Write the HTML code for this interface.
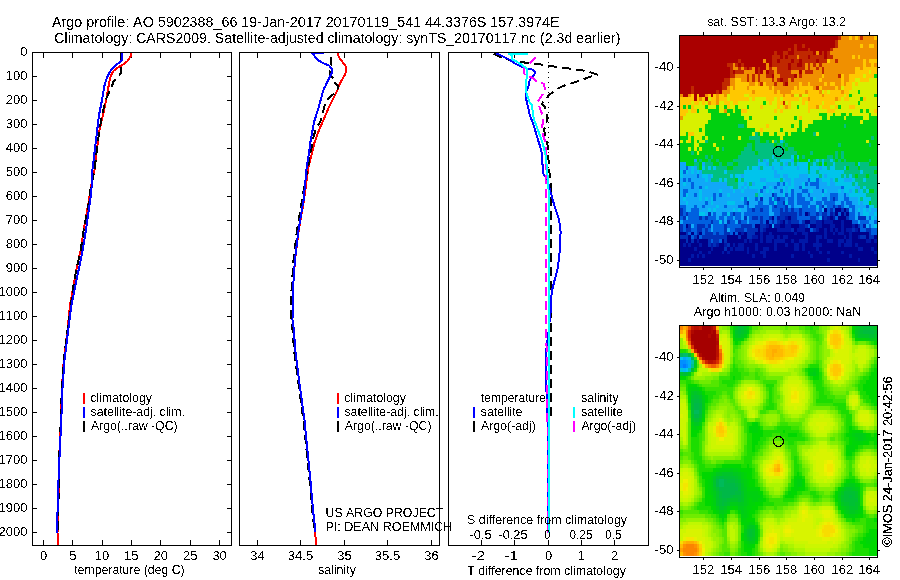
<!DOCTYPE html><html><head><meta charset="utf-8"><style>html,body{margin:0;padding:0;background:#fff;}svg{display:block;}text{font-kerning:none;}</style></head><body>
<svg width="900" height="580" viewBox="0 0 900 580" font-family='"Liberation Sans", sans-serif'>
<rect width="900" height="580" fill="#fff"/>
<defs>
<clipPath id="c1"><rect x="33" y="53" width="198" height="492"/></clipPath>
<clipPath id="c2"><rect x="240" y="53" width="199" height="492"/></clipPath>
<clipPath id="c3"><rect x="449" y="53" width="199" height="492"/></clipPath>
<clipPath id="m1"><rect x="680" y="36" width="197" height="230"/></clipPath>
<clipPath id="m2"><rect x="680" y="326" width="197" height="230"/></clipPath>
<filter id="bl" x="-20%" y="-20%" width="140%" height="140%"><feGaussianBlur stdDeviation="3"/></filter>
<filter id="bl2" x="-20%" y="-20%" width="140%" height="140%"><feGaussianBlur stdDeviation="2"/></filter>
<filter id="thr" x="0" y="0" width="900" height="580" filterUnits="userSpaceOnUse"><feComponentTransfer><feFuncA type="discrete" tableValues="0 1"/></feComponentTransfer></filter>
<filter id="thr2" x="0" y="0" width="900" height="580" filterUnits="userSpaceOnUse"><feComponentTransfer><feFuncA type="discrete" tableValues="0 0 0 1 1 1 1 1 1 1"/></feComponentTransfer></filter>
</defs>
<g shape-rendering="crispEdges">
<rect x="32" y="52" width="200" height="1" fill="#000"/>
<rect x="32" y="545" width="200" height="1" fill="#000"/>
<rect x="32" y="52" width="1" height="494" fill="#000"/>
<rect x="231" y="52" width="1" height="494" fill="#000"/>
<rect x="239" y="52" width="201" height="1" fill="#000"/>
<rect x="239" y="545" width="201" height="1" fill="#000"/>
<rect x="239" y="52" width="1" height="494" fill="#000"/>
<rect x="439" y="52" width="1" height="494" fill="#000"/>
<rect x="448" y="52" width="201" height="1" fill="#000"/>
<rect x="448" y="545" width="201" height="1" fill="#000"/>
<rect x="448" y="52" width="1" height="494" fill="#000"/>
<rect x="648" y="52" width="1" height="494" fill="#000"/>
<rect x="33" y="52" width="4" height="1" fill="#000"/>
<rect x="227" y="52" width="4" height="1" fill="#000"/>
<rect x="33" y="76" width="4" height="1" fill="#000"/>
<rect x="227" y="76" width="4" height="1" fill="#000"/>
<rect x="33" y="100" width="4" height="1" fill="#000"/>
<rect x="227" y="100" width="4" height="1" fill="#000"/>
<rect x="33" y="124" width="4" height="1" fill="#000"/>
<rect x="227" y="124" width="4" height="1" fill="#000"/>
<rect x="33" y="148" width="4" height="1" fill="#000"/>
<rect x="227" y="148" width="4" height="1" fill="#000"/>
<rect x="33" y="172" width="4" height="1" fill="#000"/>
<rect x="227" y="172" width="4" height="1" fill="#000"/>
<rect x="33" y="196" width="4" height="1" fill="#000"/>
<rect x="227" y="196" width="4" height="1" fill="#000"/>
<rect x="33" y="220" width="4" height="1" fill="#000"/>
<rect x="227" y="220" width="4" height="1" fill="#000"/>
<rect x="33" y="244" width="4" height="1" fill="#000"/>
<rect x="227" y="244" width="4" height="1" fill="#000"/>
<rect x="33" y="268" width="4" height="1" fill="#000"/>
<rect x="227" y="268" width="4" height="1" fill="#000"/>
<rect x="33" y="292" width="4" height="1" fill="#000"/>
<rect x="227" y="292" width="4" height="1" fill="#000"/>
<rect x="33" y="316" width="4" height="1" fill="#000"/>
<rect x="227" y="316" width="4" height="1" fill="#000"/>
<rect x="33" y="340" width="4" height="1" fill="#000"/>
<rect x="227" y="340" width="4" height="1" fill="#000"/>
<rect x="33" y="364" width="4" height="1" fill="#000"/>
<rect x="227" y="364" width="4" height="1" fill="#000"/>
<rect x="33" y="388" width="4" height="1" fill="#000"/>
<rect x="227" y="388" width="4" height="1" fill="#000"/>
<rect x="33" y="412" width="4" height="1" fill="#000"/>
<rect x="227" y="412" width="4" height="1" fill="#000"/>
<rect x="33" y="436" width="4" height="1" fill="#000"/>
<rect x="227" y="436" width="4" height="1" fill="#000"/>
<rect x="33" y="460" width="4" height="1" fill="#000"/>
<rect x="227" y="460" width="4" height="1" fill="#000"/>
<rect x="33" y="484" width="4" height="1" fill="#000"/>
<rect x="227" y="484" width="4" height="1" fill="#000"/>
<rect x="33" y="508" width="4" height="1" fill="#000"/>
<rect x="227" y="508" width="4" height="1" fill="#000"/>
<rect x="33" y="532" width="4" height="1" fill="#000"/>
<rect x="227" y="532" width="4" height="1" fill="#000"/>
<rect x="43" y="53" width="1" height="5" fill="#000"/>
<rect x="43" y="540" width="1" height="5" fill="#000"/>
<rect x="72" y="53" width="1" height="5" fill="#000"/>
<rect x="72" y="540" width="1" height="5" fill="#000"/>
<rect x="102" y="53" width="1" height="5" fill="#000"/>
<rect x="102" y="540" width="1" height="5" fill="#000"/>
<rect x="131" y="53" width="1" height="5" fill="#000"/>
<rect x="131" y="540" width="1" height="5" fill="#000"/>
<rect x="160" y="53" width="1" height="5" fill="#000"/>
<rect x="160" y="540" width="1" height="5" fill="#000"/>
<rect x="190" y="53" width="1" height="5" fill="#000"/>
<rect x="190" y="540" width="1" height="5" fill="#000"/>
<rect x="219" y="53" width="1" height="5" fill="#000"/>
<rect x="219" y="540" width="1" height="5" fill="#000"/>
<rect x="257" y="53" width="1" height="5" fill="#000"/>
<rect x="257" y="540" width="1" height="5" fill="#000"/>
<rect x="300" y="53" width="1" height="5" fill="#000"/>
<rect x="300" y="540" width="1" height="5" fill="#000"/>
<rect x="344" y="53" width="1" height="5" fill="#000"/>
<rect x="344" y="540" width="1" height="5" fill="#000"/>
<rect x="387" y="53" width="1" height="5" fill="#000"/>
<rect x="387" y="540" width="1" height="5" fill="#000"/>
<rect x="431" y="53" width="1" height="5" fill="#000"/>
<rect x="431" y="540" width="1" height="5" fill="#000"/>
<rect x="481" y="53" width="1" height="5" fill="#000"/>
<rect x="481" y="540" width="1" height="5" fill="#000"/>
<rect x="514" y="53" width="1" height="5" fill="#000"/>
<rect x="514" y="540" width="1" height="5" fill="#000"/>
<rect x="548" y="53" width="1" height="5" fill="#000"/>
<rect x="548" y="540" width="1" height="5" fill="#000"/>
<rect x="581" y="53" width="1" height="5" fill="#000"/>
<rect x="581" y="540" width="1" height="5" fill="#000"/>
<rect x="614" y="53" width="1" height="5" fill="#000"/>
<rect x="614" y="540" width="1" height="5" fill="#000"/>
</g>
<rect x="83" y="393" width="2" height="11" fill="#f00" shape-rendering="crispEdges"/>
<rect x="83" y="407" width="2" height="11" fill="#00f" shape-rendering="crispEdges"/>
<rect x="83" y="421" width="2" height="11" fill="#000" shape-rendering="crispEdges"/>
<rect x="337" y="393" width="2" height="11" fill="#f00" shape-rendering="crispEdges"/>
<rect x="337" y="407" width="2" height="11" fill="#00f" shape-rendering="crispEdges"/>
<rect x="337" y="421" width="2" height="11" fill="#000" shape-rendering="crispEdges"/>
<rect x="473" y="407" width="2" height="11" fill="#00f" shape-rendering="crispEdges"/>
<rect x="473" y="421" width="2" height="11" fill="#000" shape-rendering="crispEdges"/>
<rect x="573" y="407" width="2" height="11" fill="#0ff" shape-rendering="crispEdges"/>
<rect x="573" y="421" width="2" height="11" fill="#f0f" shape-rendering="crispEdges"/>
<g shape-rendering="crispEdges">
<polyline points="131.0,52.0 131.0,55.5 129.7,57.6 127.6,61.0 124.1,63.8 120.7,65.9 117.2,67.9 113.8,70.7 111.7,74.1 110.3,77.6 109.3,81.7 108.8,85.0 106.2,100.0 103.0,115.0 99.5,130.0 98.1,140.0 94.5,170.0 90.3,190.0 89.0,200.0 83.7,230.0 80.7,250.0 76.3,270.0 72.7,290.0 70.0,305.0 67.5,330.0 63.8,360.0 61.8,390.0 60.8,420.0 59.5,450.0 58.8,480.0 58.5,500.0 58.0,520.0 57.5,533.0 57.5,546.0" fill="none" stroke="#f00" stroke-width="2" stroke-linejoin="round" clip-path="url(#c1)"/>
<polyline points="121.0,53.0 120.7,61.7 120.7,73.4 118.6,76.2 115.9,79.0 113.1,81.7 112.4,85.0 105.7,100.0 102.0,115.0 99.5,130.0 98.1,140.0 94.5,170.0 90.3,190.0 89.3,200.0 83.7,230.0 80.7,250.0 76.3,270.0 72.7,290.0 70.3,310.0 67.5,330.0 63.8,360.0 61.8,390.0 60.8,420.0 59.5,450.0 58.8,480.0 58.5,500.0 58.0,520.0 57.6,532.0" fill="none" stroke="#000" stroke-width="2" stroke-linejoin="round" stroke-dasharray="9 5" clip-path="url(#c1)"/>
<polyline points="121.7,52.0 121.7,60.3 120.3,61.7 115.9,65.2 112.4,68.6 109.7,72.0 106.9,77.6 104.6,85.0 102.0,100.0 99.0,115.0 97.2,130.0 96.0,140.0 92.4,170.0 91.4,190.0 90.3,200.0 85.9,230.0 82.8,250.0 78.6,270.0 74.5,290.0 71.5,305.0 68.2,330.0 64.5,360.0 62.4,390.0 61.3,420.0 59.8,450.0 58.5,480.0 58.0,500.0 57.2,520.0 57.0,533.0" fill="none" stroke="#00f" stroke-width="2" stroke-linejoin="round" clip-path="url(#c1)"/>
<polyline points="338.2,52.0 338.6,56.9 341.2,60.3 344.7,64.7 346.4,67.2 346.4,70.7 344.7,75.0 342.9,78.4 340.3,82.8 338.6,86.2 337.3,90.5 335.2,94.8 333.0,99.1 329.5,106.0 324.7,117.0 320.5,126.7 317.1,135.0 314.3,143.3 311.6,154.3 308.8,165.3 307.4,175.0 304.0,200.0 298.8,230.0 295.0,260.0 292.9,290.0 292.5,320.0 293.9,330.0 295.2,350.0 299.0,380.0 303.1,410.0 304.5,420.0 307.4,450.0 310.4,480.0 313.0,510.0 315.3,530.0 315.8,546.0" fill="none" stroke="#f00" stroke-width="2" stroke-linejoin="round" clip-path="url(#c2)"/>
<polyline points="330.9,56.5 330.9,65.1 330.5,68.0 330.0,70.7 330.0,75.0 332.6,77.6 334.7,79.7 334.3,81.9 336.0,84.0 337.8,85.3 337.8,88.8 336.0,91.0 334.3,93.5 330.0,97.0 327.8,99.6 326.7,100.5 324.0,107.4 322.6,114.3 320.5,121.2 315.7,129.5 312.9,139.1 311.6,147.4 309.5,157.0 308.1,168.0 305.5,180.0 302.0,200.0 297.0,230.0 293.5,260.0 291.5,290.0 291.3,320.0 292.6,330.0 294.0,350.0 298.0,380.0 302.0,410.0 303.5,420.0 306.5,450.0 309.5,480.0 312.2,510.0 314.5,530.0" fill="none" stroke="#000" stroke-width="2" stroke-linejoin="round" stroke-dasharray="9 5" clip-path="url(#c2)"/>
<polyline points="323.5,53.0 312.5,53.5 314.5,56.0 316.2,58.6 319.7,61.2 324.8,63.8 329.1,65.5 331.7,69.0 332.2,71.6 330.9,75.0 329.1,78.4 327.4,81.9 325.3,86.2 323.5,89.7 322.2,94.0 321.2,98.0 319.8,103.3 317.8,110.2 314.3,121.2 312.2,132.2 310.2,143.3 308.8,154.3 306.7,167.0 303.6,200.0 298.5,230.0 294.9,260.0 292.9,290.0 292.5,320.0 293.9,330.0 295.2,350.0 299.0,380.0 303.1,410.0 304.5,420.0 307.4,450.0 310.4,480.0 313.0,510.0 315.3,530.0 315.5,532.0" fill="none" stroke="#00f" stroke-width="2" stroke-linejoin="round" clip-path="url(#c2)"/>
</g>
<line x1="548.5" y1="52" x2="548.5" y2="545" stroke="#000" stroke-width="1" stroke-dasharray="1 4" shape-rendering="crispEdges"/>
<g shape-rendering="crispEdges">
<polyline points="493.7,53.6 502.5,58.3 521.0,62.0 528.0,63.0 545.0,65.0 558.6,67.2 572.6,69.0 586.5,71.0 597.4,74.6 593.0,75.7 579.3,80.9 565.9,85.0 558.6,88.0 549.3,94.8 542.0,103.6 544.8,107.0 547.6,118.8 544.1,129.8 547.6,145.0 548.3,156.0 549.0,169.8 550.5,180.0 550.7,300.0 550.5,400.0 550.5,420.0" fill="none" stroke="#000" stroke-width="2" stroke-linejoin="round" stroke-dasharray="9 5" clip-path="url(#c3)"/>
<polyline points="495.8,53.1 501.4,55.7 508.7,59.3 514.9,63.4 521.1,66.5 526.3,68.6 532.5,69.6 535.0,71.7 534.5,74.3 531.4,77.4 529.4,81.0 528.8,85.2 527.3,89.3 525.7,93.4 526.3,99.6 527.6,105.0 529.7,114.7 533.8,125.7 537.9,139.5 541.4,150.5 542.1,160.2 543.4,174.0 547.6,180.0 550.7,192.4 554.8,206.9 559.0,219.3 560.6,231.8 560.0,248.3 558.0,267.0 554.8,279.4 551.7,291.8 550.7,310.7 548.6,331.4 546.1,352.0 545.5,372.8 546.6,393.5 547.5,420.0 548.0,450.0 548.0,533.0" fill="none" stroke="#00f" stroke-width="2" stroke-linejoin="round" clip-path="url(#c3)"/>
<polyline points="536.1,57.2 528.8,64.0 523.7,68.6 524.7,74.8 532.5,77.9 538.2,82.6 543.8,83.6 545.4,90.8 541.8,95.5 537.6,102.2 539.3,106.4 542.8,116.0 542.8,121.6 542.0,129.8 542.8,134.7 545.5,142.2 546.2,156.0 545.5,180.0 545.5,300.0 546.6,350.0 547.0,400.0 548.0,450.0 548.0,533.0" fill="none" stroke="#f0f" stroke-width="2" stroke-linejoin="round" stroke-dasharray="9 5" clip-path="url(#c3)"/>
<polyline points="527.8,53.9 509.2,53.9 511.8,56.2 512.3,59.3 517.0,61.9 522.1,65.0 526.3,68.1 527.3,70.7 526.8,75.9 526.3,81.0 526.0,89.3 526.8,94.5 529.4,101.7 531.7,105.0 533.8,118.8 537.9,129.8 542.8,143.6 545.5,154.7 546.9,167.0 548.3,185.0 549.0,200.0 549.0,533.0" fill="none" stroke="#0ff" stroke-width="2" stroke-linejoin="round" clip-path="url(#c3)"/>
</g>
<g clip-path="url(#m1)" shape-rendering="crispEdges">
<rect x="679" y="35" width="199" height="232" fill="#00008a"/>
<path fill="#aa0000" d="M680 36h158v4h-158zM680 40h155v4h-155zM680 44h114v4h-114zM797 44h5v4h-5zM805 44h30v4h-30zM680 48h108v3h-108zM791 48h3v3h-3zM797 48h11v3h-11zM810 48h20v3h-20zM680 51h94v4h-94zM777 51h6v4h-6zM788 51h6v4h-6zM813 51h3v4h-3zM819 51h3v4h-3zM824 51h3v4h-3zM680 55h92v4h-92zM780 55h3v4h-3zM785 55h3v4h-3zM808 55h2v4h-2zM824 55h3v4h-3zM680 59h58v4h-58zM741 59h22v4h-22zM766 59h6v4h-6zM777 59h3v4h-3zM791 59h3v4h-3zM799 59h3v4h-3zM816 59h3v4h-3zM680 63h47v4h-47zM738 63h3v4h-3zM744 63h22v4h-22zM769 63h3v4h-3zM788 63h3v4h-3zM797 63h5v4h-5zM680 67h50v3h-50zM747 67h2v3h-2zM755 67h3v3h-3zM760 67h6v3h-6zM788 67h3v3h-3zM680 70h50v4h-50zM733 70h2v4h-2zM755 70h3v4h-3zM760 70h3v4h-3zM766 70h3v4h-3zM799 70h3v4h-3zM680 74h50v4h-50zM772 74h2v4h-2zM794 74h3v4h-3zM680 78h44v4h-44zM780 78h3v4h-3zM680 82h42v4h-42zM785 82h3v4h-3zM680 86h11v4h-11zM694 86h28v4h-28zM680 90h11v4h-11zM694 90h22v4h-22zM719 90h3v4h-3zM683 94h5v3h-5zM694 94h3v3h-3zM699 94h6v3h-6zM711 94h2v3h-2zM694 97h3v4h-3zM705 97h3v4h-3z"/>
<path fill="#c02800" d="M838 36h3v4h-3zM860 36h3v4h-3zM835 40h3v4h-3zM794 44h3v4h-3zM802 44h3v4h-3zM835 44h3v4h-3zM788 48h3v3h-3zM794 48h3v3h-3zM808 48h2v3h-2zM830 48h3v3h-3zM774 51h3v4h-3zM783 51h5v4h-5zM794 51h19v4h-19zM822 51h2v4h-2zM827 51h3v4h-3zM772 55h8v4h-8zM783 55h2v4h-2zM788 55h9v4h-9zM799 55h9v4h-9zM810 55h14v4h-14zM827 55h6v4h-6zM738 59h3v4h-3zM772 59h5v4h-5zM780 59h11v4h-11zM794 59h5v4h-5zM802 59h14v4h-14zM819 59h8v4h-8zM835 59h3v4h-3zM727 63h6v4h-6zM735 63h3v4h-3zM741 63h3v4h-3zM772 63h16v4h-16zM791 63h6v4h-6zM802 63h3v4h-3zM808 63h2v4h-2zM813 63h3v4h-3zM819 63h3v4h-3zM730 67h3v3h-3zM738 67h3v3h-3zM744 67h3v3h-3zM749 67h3v3h-3zM758 67h2v3h-2zM769 67h3v3h-3zM777 67h11v3h-11zM791 67h14v3h-14zM808 67h2v3h-2zM816 67h3v3h-3zM822 67h2v3h-2zM730 70h3v4h-3zM735 70h9v4h-9zM758 70h2v4h-2zM769 70h5v4h-5zM777 70h14v4h-14zM805 70h8v4h-8zM822 70h2v4h-2zM730 74h5v4h-5zM747 74h2v4h-2zM752 74h3v4h-3zM758 74h2v4h-2zM766 74h6v4h-6zM780 74h14v4h-14zM799 74h3v4h-3zM838 74h3v4h-3zM724 78h6v4h-6zM747 78h2v4h-2zM752 78h3v4h-3zM758 78h2v4h-2zM772 78h2v4h-2zM777 78h3v4h-3zM783 78h5v4h-5zM791 78h3v4h-3zM722 82h8v4h-8zM760 82h3v4h-3zM774 82h3v4h-3zM783 82h2v4h-2zM691 86h3v4h-3zM722 86h5v4h-5zM816 86h3v4h-3zM691 90h3v4h-3zM716 90h3v4h-3zM783 101h2v4h-2z"/>
<path fill="#f09000" d="M841 36h8v4h-8zM852 36h3v4h-3zM858 36h2v4h-2zM863 36h11v4h-11zM838 40h39v4h-39zM838 44h22v4h-22zM863 44h6v4h-6zM874 44h3v4h-3zM833 48h44v3h-44zM816 51h3v4h-3zM830 51h47v4h-47zM797 55h2v4h-2zM833 55h19v4h-19zM855 55h3v4h-3zM860 55h17v4h-17zM763 59h3v4h-3zM830 59h5v4h-5zM838 59h25v4h-25zM866 59h3v4h-3zM733 63h2v4h-2zM766 63h3v4h-3zM805 63h3v4h-3zM810 63h3v4h-3zM816 63h3v4h-3zM822 63h41v4h-41zM866 63h5v4h-5zM874 63h3v4h-3zM733 67h5v3h-5zM741 67h3v3h-3zM752 67h3v3h-3zM766 67h3v3h-3zM772 67h5v3h-5zM805 67h3v3h-3zM810 67h6v3h-6zM819 67h3v3h-3zM824 67h31v3h-31zM860 67h3v3h-3zM744 70h11v4h-11zM763 70h3v4h-3zM774 70h3v4h-3zM791 70h8v4h-8zM802 70h3v4h-3zM813 70h9v4h-9zM824 70h31v4h-31zM735 74h12v4h-12zM749 74h3v4h-3zM755 74h3v4h-3zM760 74h6v4h-6zM774 74h6v4h-6zM797 74h2v4h-2zM802 74h20v4h-20zM824 74h14v4h-14zM844 74h5v4h-5zM730 78h5v4h-5zM741 78h6v4h-6zM749 78h3v4h-3zM755 78h3v4h-3zM760 78h12v4h-12zM774 78h3v4h-3zM788 78h3v4h-3zM794 78h25v4h-25zM822 78h19v4h-19zM844 78h5v4h-5zM730 82h5v4h-5zM749 82h6v4h-6zM758 82h2v4h-2zM766 82h8v4h-8zM777 82h6v4h-6zM788 82h11v4h-11zM802 82h6v4h-6zM810 82h14v4h-14zM827 82h3v4h-3zM835 82h6v4h-6zM844 82h2v4h-2zM727 86h3v4h-3zM733 86h2v4h-2zM747 86h2v4h-2zM769 86h3v4h-3zM774 86h20v4h-20zM797 86h2v4h-2zM813 86h3v4h-3zM822 86h13v4h-13zM838 86h3v4h-3zM722 90h8v4h-8zM752 90h3v4h-3zM774 90h3v4h-3zM780 90h11v4h-11zM805 90h3v4h-3zM819 90h3v4h-3zM841 90h3v4h-3zM680 94h3v3h-3zM688 94h3v3h-3zM705 94h3v3h-3zM716 94h3v3h-3zM724 94h3v3h-3zM783 94h2v3h-2zM791 94h3v3h-3zM799 94h3v3h-3zM822 94h2v3h-2zM699 97h3v4h-3zM716 97h3v4h-3zM808 97h2v4h-2zM835 97h3v4h-3zM708 101h3v4h-3zM716 101h3v4h-3zM785 105h3v4h-3zM816 105h3v4h-3zM724 109h3v4h-3zM680 116h3v4h-3z"/>
<path fill="#ffc800" d="M849 36h3v4h-3zM855 36h3v4h-3zM874 36h3v4h-3zM860 44h3v4h-3zM869 44h5v4h-5zM852 55h3v4h-3zM858 55h2v4h-2zM827 59h3v4h-3zM863 59h3v4h-3zM869 59h8v4h-8zM863 63h3v4h-3zM871 63h3v4h-3zM855 67h5v3h-5zM863 67h14v3h-14zM855 70h14v4h-14zM871 70h6v4h-6zM822 74h2v4h-2zM841 74h3v4h-3zM849 74h14v4h-14zM866 74h8v4h-8zM735 78h6v4h-6zM819 78h3v4h-3zM841 78h3v4h-3zM849 78h6v4h-6zM860 78h9v4h-9zM735 82h14v4h-14zM755 82h3v4h-3zM763 82h3v4h-3zM799 82h3v4h-3zM808 82h2v4h-2zM824 82h3v4h-3zM830 82h5v4h-5zM841 82h3v4h-3zM846 82h6v4h-6zM855 82h3v4h-3zM730 86h3v4h-3zM735 86h12v4h-12zM749 86h20v4h-20zM772 86h2v4h-2zM794 86h3v4h-3zM799 86h14v4h-14zM819 86h3v4h-3zM835 86h3v4h-3zM844 86h8v4h-8zM730 90h22v4h-22zM755 90h19v4h-19zM777 90h3v4h-3zM791 90h14v4h-14zM808 90h11v4h-11zM824 90h3v4h-3zM830 90h11v4h-11zM844 90h5v4h-5zM691 94h3v3h-3zM697 94h2v3h-2zM708 94h3v3h-3zM713 94h3v3h-3zM719 94h5v3h-5zM730 94h14v3h-14zM749 94h34v3h-34zM785 94h6v3h-6zM808 94h14v3h-14zM824 94h20v3h-20zM846 94h3v3h-3zM680 97h14v4h-14zM697 97h2v4h-2zM702 97h3v4h-3zM711 97h5v4h-5zM719 97h8v4h-8zM730 97h19v4h-19zM752 97h3v4h-3zM766 97h8v4h-8zM777 97h3v4h-3zM783 97h16v4h-16zM802 97h6v4h-6zM810 97h25v4h-25zM838 97h3v4h-3zM844 97h5v4h-5zM863 97h3v4h-3zM680 101h11v4h-11zM694 101h5v4h-5zM702 101h3v4h-3zM711 101h5v4h-5zM724 101h6v4h-6zM733 101h5v4h-5zM769 101h3v4h-3zM777 101h6v4h-6zM788 101h3v4h-3zM802 101h3v4h-3zM808 101h14v4h-14zM824 101h11v4h-11zM680 105h3v4h-3zM686 105h2v4h-2zM691 105h3v4h-3zM727 105h3v4h-3zM760 105h3v4h-3zM777 105h3v4h-3zM783 105h2v4h-2zM788 105h3v4h-3zM808 105h8v4h-8zM822 105h8v4h-8zM835 105h3v4h-3zM849 105h6v4h-6zM680 109h8v4h-8zM691 109h6v4h-6zM741 109h6v4h-6zM774 109h3v4h-3zM780 109h3v4h-3zM808 109h2v4h-2zM827 109h8v4h-8zM874 109h3v4h-3zM680 113h6v3h-6zM799 116h3v4h-3zM766 124h3v4h-3zM760 128h3v4h-3zM688 132h6v4h-6zM688 140h3v3h-3z"/>
<path fill="#d8f000" d="M869 70h2v4h-2zM863 74h3v4h-3zM855 78h5v4h-5zM869 78h8v4h-8zM852 82h3v4h-3zM858 82h19v4h-19zM841 86h3v4h-3zM852 86h25v4h-25zM822 90h2v4h-2zM827 90h3v4h-3zM849 90h9v4h-9zM860 90h17v4h-17zM727 94h3v3h-3zM744 94h5v3h-5zM794 94h5v3h-5zM802 94h6v3h-6zM844 94h2v3h-2zM852 94h22v3h-22zM708 97h3v4h-3zM727 97h3v4h-3zM749 97h3v4h-3zM755 97h11v4h-11zM774 97h3v4h-3zM780 97h3v4h-3zM799 97h3v4h-3zM841 97h3v4h-3zM849 97h11v4h-11zM866 97h11v4h-11zM691 101h3v4h-3zM699 101h3v4h-3zM705 101h3v4h-3zM719 101h5v4h-5zM730 101h3v4h-3zM738 101h25v4h-25zM766 101h3v4h-3zM772 101h5v4h-5zM785 101h3v4h-3zM791 101h11v4h-11zM805 101h3v4h-3zM822 101h2v4h-2zM835 101h23v4h-23zM860 101h17v4h-17zM694 105h11v4h-11zM708 105h8v4h-8zM719 105h5v4h-5zM730 105h5v4h-5zM738 105h9v4h-9zM749 105h11v4h-11zM763 105h14v4h-14zM780 105h3v4h-3zM791 105h6v4h-6zM799 105h9v4h-9zM819 105h3v4h-3zM830 105h5v4h-5zM841 105h8v4h-8zM855 105h22v4h-22zM688 109h3v4h-3zM699 109h9v4h-9zM719 109h5v4h-5zM733 109h2v4h-2zM747 109h27v4h-27zM777 109h3v4h-3zM783 109h25v4h-25zM810 109h17v4h-17zM835 109h25v4h-25zM863 109h3v4h-3zM869 109h5v4h-5zM686 113h25v3h-25zM727 113h3v3h-3zM741 113h78v3h-78zM827 113h6v3h-6zM835 113h6v3h-6zM846 113h3v3h-3zM852 113h17v3h-17zM871 113h6v3h-6zM683 116h28v4h-28zM744 116h5v4h-5zM752 116h22v4h-22zM777 116h17v4h-17zM797 116h2v4h-2zM802 116h20v4h-20zM827 116h3v4h-3zM844 116h2v4h-2zM863 116h6v4h-6zM680 120h28v4h-28zM747 120h52v4h-52zM802 120h11v4h-11zM860 120h3v4h-3zM680 124h25v4h-25zM747 124h19v4h-19zM769 124h22v4h-22zM794 124h5v4h-5zM802 124h6v4h-6zM680 128h19v4h-19zM702 128h3v4h-3zM755 128h5v4h-5zM763 128h17v4h-17zM783 128h14v4h-14zM802 128h3v4h-3zM680 132h6v4h-6zM694 132h11v4h-11zM752 132h3v4h-3zM760 132h3v4h-3zM769 132h5v4h-5zM777 132h8v4h-8zM788 132h3v4h-3zM816 132h3v4h-3zM688 136h3v4h-3zM694 136h8v4h-8zM705 136h3v4h-3zM722 136h2v4h-2zM738 136h3v4h-3zM780 136h3v4h-3zM680 140h3v3h-3zM686 140h2v3h-2zM694 140h3v3h-3zM699 140h6v3h-6zM772 140h2v3h-2zM866 140h3v3h-3zM694 143h5v4h-5zM713 143h3v4h-3zM688 147h3v4h-3zM694 147h3v4h-3zM699 147h3v4h-3zM716 147h3v4h-3zM697 151h2v4h-2z"/>
<path fill="#00d010" d="M874 74h3v4h-3zM858 90h2v4h-2zM849 94h3v3h-3zM874 94h3v3h-3zM860 97h3v4h-3zM763 101h3v4h-3zM858 101h2v4h-2zM683 105h3v4h-3zM688 105h3v4h-3zM705 105h3v4h-3zM716 105h3v4h-3zM724 105h3v4h-3zM735 105h3v4h-3zM747 105h2v4h-2zM797 105h2v4h-2zM838 105h3v4h-3zM697 109h2v4h-2zM708 109h11v4h-11zM727 109h6v4h-6zM735 109h6v4h-6zM860 109h3v4h-3zM866 109h3v4h-3zM711 113h16v3h-16zM730 113h11v3h-11zM819 113h8v3h-8zM833 113h2v3h-2zM841 113h5v3h-5zM849 113h3v3h-3zM869 113h2v3h-2zM711 116h33v4h-33zM749 116h3v4h-3zM774 116h3v4h-3zM794 116h3v4h-3zM822 116h5v4h-5zM830 116h14v4h-14zM846 116h17v4h-17zM869 116h8v4h-8zM708 120h39v4h-39zM799 120h3v4h-3zM813 120h47v4h-47zM863 120h14v4h-14zM705 124h33v4h-33zM744 124h3v4h-3zM791 124h3v4h-3zM799 124h3v4h-3zM808 124h36v4h-36zM846 124h31v4h-31zM699 128h3v4h-3zM705 128h50v4h-50zM780 128h3v4h-3zM797 128h5v4h-5zM805 128h72v4h-72zM686 132h2v4h-2zM705 132h47v4h-47zM758 132h2v4h-2zM763 132h6v4h-6zM774 132h3v4h-3zM785 132h3v4h-3zM791 132h22v4h-22zM819 132h58v4h-58zM680 136h8v4h-8zM691 136h3v4h-3zM702 136h3v4h-3zM708 136h14v4h-14zM724 136h14v4h-14zM741 136h8v4h-8zM760 136h20v4h-20zM783 136h88v4h-88zM874 136h3v4h-3zM683 140h3v3h-3zM691 140h3v3h-3zM697 140h2v3h-2zM708 140h47v3h-47zM760 140h6v3h-6zM769 140h3v3h-3zM777 140h3v3h-3zM785 140h81v3h-81zM869 140h8v3h-8zM680 143h14v4h-14zM699 143h14v4h-14zM716 143h31v4h-31zM752 143h3v4h-3zM774 143h3v4h-3zM783 143h2v4h-2zM788 143h50v4h-50zM841 143h28v4h-28zM871 143h6v4h-6zM680 147h8v4h-8zM691 147h3v4h-3zM697 147h2v4h-2zM702 147h14v4h-14zM719 147h3v4h-3zM724 147h20v4h-20zM752 147h3v4h-3zM785 147h3v4h-3zM794 147h83v4h-83zM680 151h11v4h-11zM694 151h3v4h-3zM699 151h42v4h-42zM755 151h3v4h-3zM797 151h13v4h-13zM813 151h22v4h-22zM838 151h3v4h-3zM844 151h33v4h-33zM680 155h25v4h-25zM708 155h3v4h-3zM713 155h25v4h-25zM794 155h3v4h-3zM799 155h3v4h-3zM805 155h22v4h-22zM833 155h2v4h-2zM838 155h3v4h-3zM844 155h33v4h-33zM680 159h14v3h-14zM697 159h2v3h-2zM702 159h6v3h-6zM711 159h5v3h-5zM719 159h14v3h-14zM794 159h3v3h-3zM799 159h9v3h-9zM810 159h3v3h-3zM835 159h3v3h-3zM841 159h3v3h-3zM846 159h23v3h-23zM871 159h6v3h-6zM686 162h8v4h-8zM699 162h3v4h-3zM713 162h6v4h-6zM722 162h5v4h-5zM733 162h5v4h-5zM808 162h2v4h-2zM819 162h3v4h-3zM824 162h3v4h-3zM855 162h3v4h-3zM869 162h8v4h-8zM699 166h3v4h-3zM727 166h6v4h-6zM808 166h2v4h-2zM846 166h3v4h-3zM858 166h2v4h-2zM874 170h3v4h-3zM855 174h3v4h-3zM866 174h3v4h-3zM735 178h3v4h-3zM869 189h5v4h-5zM869 201h2v4h-2z"/>
<path fill="#00c080" d="M738 124h6v4h-6zM844 124h2v4h-2zM755 132h3v4h-3zM813 132h3v4h-3zM749 136h11v4h-11zM871 136h3v4h-3zM705 140h3v3h-3zM755 140h5v3h-5zM766 140h3v3h-3zM774 140h3v3h-3zM783 140h2v3h-2zM747 143h5v4h-5zM755 143h19v4h-19zM777 143h6v4h-6zM785 143h3v4h-3zM838 143h3v4h-3zM869 143h2v4h-2zM722 147h2v4h-2zM744 147h8v4h-8zM755 147h30v4h-30zM788 147h6v4h-6zM691 151h3v4h-3zM741 151h14v4h-14zM758 151h39v4h-39zM810 151h3v4h-3zM835 151h3v4h-3zM841 151h3v4h-3zM705 155h3v4h-3zM711 155h2v4h-2zM738 155h34v4h-34zM774 155h17v4h-17zM802 155h3v4h-3zM827 155h6v4h-6zM835 155h3v4h-3zM841 155h3v4h-3zM699 159h3v3h-3zM708 159h3v3h-3zM716 159h3v3h-3zM733 159h25v3h-25zM760 159h3v3h-3zM769 159h5v3h-5zM777 159h3v3h-3zM797 159h2v3h-2zM813 159h3v3h-3zM819 159h3v3h-3zM824 159h6v3h-6zM833 159h2v3h-2zM838 159h3v3h-3zM844 159h2v3h-2zM869 159h2v3h-2zM694 162h5v4h-5zM705 162h8v4h-8zM719 162h3v4h-3zM727 162h6v4h-6zM738 162h20v4h-20zM769 162h3v4h-3zM780 162h3v4h-3zM788 162h3v4h-3zM794 162h3v4h-3zM810 162h3v4h-3zM816 162h3v4h-3zM827 162h6v4h-6zM835 162h20v4h-20zM860 162h9v4h-9zM697 166h2v4h-2zM705 166h3v4h-3zM711 166h2v4h-2zM716 166h11v4h-11zM733 166h14v4h-14zM749 166h3v4h-3zM760 166h3v4h-3zM827 166h3v4h-3zM835 166h9v4h-9zM849 166h9v4h-9zM860 166h17v4h-17zM702 170h22v4h-22zM727 170h17v4h-17zM808 170h2v4h-2zM816 170h3v4h-3zM844 170h16v4h-16zM863 170h11v4h-11zM713 174h17v4h-17zM733 174h2v4h-2zM819 174h3v4h-3zM841 174h3v4h-3zM846 174h3v4h-3zM852 174h3v4h-3zM858 174h8v4h-8zM869 174h8v4h-8zM711 178h8v4h-8zM722 178h2v4h-2zM727 178h8v4h-8zM741 178h3v4h-3zM780 178h3v4h-3zM835 178h3v4h-3zM855 178h8v4h-8zM866 178h11v4h-11zM727 182h11v4h-11zM749 182h3v4h-3zM852 182h3v4h-3zM858 182h19v4h-19zM733 186h5v3h-5zM860 186h3v3h-3zM866 186h11v3h-11zM855 189h3v4h-3zM863 189h3v4h-3zM874 189h3v4h-3zM755 193h3v4h-3zM866 193h11v4h-11zM860 197h3v4h-3zM871 197h6v4h-6zM871 201h6v4h-6zM874 205h3v3h-3z"/>
<path fill="#00c4ec" d="M780 140h3v3h-3zM772 155h2v4h-2zM791 155h3v4h-3zM797 155h2v4h-2zM766 159h3v3h-3zM774 159h3v3h-3zM780 159h11v3h-11zM808 159h2v3h-2zM816 159h3v3h-3zM822 159h2v3h-2zM830 159h3v3h-3zM758 162h8v4h-8zM772 162h8v4h-8zM783 162h2v4h-2zM791 162h3v4h-3zM797 162h11v4h-11zM813 162h3v4h-3zM822 162h2v4h-2zM833 162h2v4h-2zM858 162h2v4h-2zM691 166h3v4h-3zM702 166h3v4h-3zM708 166h3v4h-3zM713 166h3v4h-3zM747 166h2v4h-2zM752 166h6v4h-6zM763 166h9v4h-9zM774 166h6v4h-6zM783 166h14v4h-14zM799 166h9v4h-9zM810 166h9v4h-9zM822 166h5v4h-5zM830 166h5v4h-5zM844 166h2v4h-2zM680 170h3v4h-3zM686 170h2v4h-2zM691 170h3v4h-3zM697 170h2v4h-2zM724 170h3v4h-3zM744 170h30v4h-30zM777 170h31v4h-31zM810 170h6v4h-6zM819 170h25v4h-25zM860 170h3v4h-3zM680 174h3v4h-3zM702 174h6v4h-6zM711 174h2v4h-2zM730 174h3v4h-3zM735 174h6v4h-6zM744 174h30v4h-30zM780 174h3v4h-3zM788 174h11v4h-11zM808 174h11v4h-11zM822 174h2v4h-2zM827 174h14v4h-14zM844 174h2v4h-2zM849 174h3v4h-3zM705 178h3v4h-3zM719 178h3v4h-3zM724 178h3v4h-3zM738 178h3v4h-3zM744 178h16v4h-16zM766 178h14v4h-14zM783 178h2v4h-2zM791 178h3v4h-3zM810 178h6v4h-6zM822 178h8v4h-8zM833 178h2v4h-2zM838 178h6v4h-6zM852 178h3v4h-3zM863 178h3v4h-3zM683 182h3v4h-3zM738 182h6v4h-6zM747 182h2v4h-2zM755 182h11v4h-11zM785 182h3v4h-3zM791 182h3v4h-3zM802 182h3v4h-3zM827 182h3v4h-3zM835 182h17v4h-17zM855 182h3v4h-3zM705 186h3v3h-3zM730 186h3v3h-3zM738 186h3v3h-3zM744 186h3v3h-3zM749 186h14v3h-14zM769 186h3v3h-3zM783 186h2v3h-2zM788 186h6v3h-6zM802 186h3v3h-3zM844 186h11v3h-11zM863 186h3v3h-3zM699 189h3v4h-3zM719 189h3v4h-3zM733 189h2v4h-2zM741 189h3v4h-3zM758 189h2v4h-2zM766 189h3v4h-3zM772 189h2v4h-2zM783 189h2v4h-2zM788 189h3v4h-3zM810 189h3v4h-3zM824 189h3v4h-3zM838 189h3v4h-3zM844 189h5v4h-5zM852 189h3v4h-3zM860 189h3v4h-3zM866 189h3v4h-3zM686 193h2v4h-2zM699 193h3v4h-3zM727 193h3v4h-3zM760 193h3v4h-3zM783 193h2v4h-2zM822 193h2v4h-2zM849 193h17v4h-17zM683 197h3v4h-3zM699 197h3v4h-3zM705 197h3v4h-3zM711 197h2v4h-2zM741 197h3v4h-3zM747 197h2v4h-2zM772 197h2v4h-2zM813 197h3v4h-3zM858 197h2v4h-2zM863 197h8v4h-8zM686 201h2v4h-2zM711 201h2v4h-2zM727 201h8v4h-8zM774 201h3v4h-3zM785 201h3v4h-3zM858 201h2v4h-2zM863 201h6v4h-6zM716 205h3v3h-3zM816 205h3v3h-3zM869 205h5v3h-5zM708 208h3v4h-3zM713 208h3v4h-3zM733 208h2v4h-2zM738 208h3v4h-3zM858 208h2v4h-2zM863 208h3v4h-3zM869 208h2v4h-2zM699 212h6v4h-6zM727 212h3v4h-3zM863 212h6v4h-6zM874 212h3v4h-3zM871 216h3v4h-3zM719 220h3v4h-3zM874 224h3v4h-3z"/>
<path fill="#10a8f8" d="M694 159h3v3h-3zM758 159h2v3h-2zM763 159h3v3h-3zM791 159h3v3h-3zM680 162h6v4h-6zM702 162h3v4h-3zM766 162h3v4h-3zM785 162h3v4h-3zM680 166h6v4h-6zM688 166h3v4h-3zM694 166h3v4h-3zM758 166h2v4h-2zM772 166h2v4h-2zM780 166h3v4h-3zM797 166h2v4h-2zM819 166h3v4h-3zM688 170h3v4h-3zM694 170h3v4h-3zM699 170h3v4h-3zM774 170h3v4h-3zM683 174h14v4h-14zM699 174h3v4h-3zM708 174h3v4h-3zM741 174h3v4h-3zM774 174h6v4h-6zM783 174h5v4h-5zM799 174h9v4h-9zM824 174h3v4h-3zM680 178h3v4h-3zM686 178h2v4h-2zM691 178h14v4h-14zM708 178h3v4h-3zM760 178h6v4h-6zM785 178h6v4h-6zM794 178h14v4h-14zM819 178h3v4h-3zM830 178h3v4h-3zM844 178h8v4h-8zM680 182h3v4h-3zM686 182h5v4h-5zM694 182h33v4h-33zM744 182h3v4h-3zM752 182h3v4h-3zM766 182h11v4h-11zM780 182h3v4h-3zM788 182h3v4h-3zM794 182h8v4h-8zM808 182h2v4h-2zM819 182h8v4h-8zM830 182h5v4h-5zM680 186h11v3h-11zM694 186h5v3h-5zM702 186h3v3h-3zM708 186h22v3h-22zM741 186h3v3h-3zM747 186h2v3h-2zM766 186h3v3h-3zM772 186h2v3h-2zM777 186h6v3h-6zM785 186h3v3h-3zM794 186h5v3h-5zM805 186h11v3h-11zM819 186h22v3h-22zM855 186h5v3h-5zM680 189h3v4h-3zM688 189h11v4h-11zM702 189h17v4h-17zM722 189h11v4h-11zM735 189h6v4h-6zM744 189h14v4h-14zM763 189h3v4h-3zM769 189h3v4h-3zM774 189h6v4h-6zM785 189h3v4h-3zM794 189h8v4h-8zM808 189h2v4h-2zM813 189h9v4h-9zM827 189h11v4h-11zM841 189h3v4h-3zM849 189h3v4h-3zM858 189h2v4h-2zM680 193h3v4h-3zM688 193h6v4h-6zM697 193h2v4h-2zM702 193h11v4h-11zM716 193h3v4h-3zM722 193h5v4h-5zM730 193h25v4h-25zM758 193h2v4h-2zM763 193h9v4h-9zM777 193h6v4h-6zM788 193h3v4h-3zM794 193h3v4h-3zM802 193h6v4h-6zM810 193h12v4h-12zM824 193h6v4h-6zM838 193h6v4h-6zM846 193h3v4h-3zM680 197h3v4h-3zM686 197h13v4h-13zM702 197h3v4h-3zM708 197h3v4h-3zM716 197h25v4h-25zM749 197h6v4h-6zM758 197h2v4h-2zM763 197h6v4h-6zM785 197h3v4h-3zM794 197h3v4h-3zM805 197h5v4h-5zM816 197h6v4h-6zM827 197h3v4h-3zM838 197h6v4h-6zM849 197h9v4h-9zM680 201h6v4h-6zM688 201h17v4h-17zM708 201h3v4h-3zM713 201h14v4h-14zM735 201h9v4h-9zM749 201h9v4h-9zM763 201h6v4h-6zM794 201h3v4h-3zM810 201h6v4h-6zM822 201h2v4h-2zM835 201h6v4h-6zM844 201h2v4h-2zM852 201h6v4h-6zM860 201h3v4h-3zM686 205h8v3h-8zM697 205h5v3h-5zM705 205h11v3h-11zM719 205h5v3h-5zM727 205h11v3h-11zM744 205h3v3h-3zM749 205h6v3h-6zM769 205h3v3h-3zM788 205h3v3h-3zM794 205h8v3h-8zM808 205h2v3h-2zM824 205h3v3h-3zM844 205h5v3h-5zM855 205h11v3h-11zM686 208h5v4h-5zM699 208h9v4h-9zM711 208h2v4h-2zM716 208h17v4h-17zM735 208h3v4h-3zM741 208h6v4h-6zM769 208h3v4h-3zM816 208h3v4h-3zM822 208h2v4h-2zM849 208h3v4h-3zM855 208h3v4h-3zM860 208h3v4h-3zM866 208h3v4h-3zM871 208h6v4h-6zM705 212h3v4h-3zM711 212h2v4h-2zM716 212h6v4h-6zM741 212h3v4h-3zM769 212h5v4h-5zM855 212h3v4h-3zM860 212h3v4h-3zM869 212h5v4h-5zM686 216h2v4h-2zM716 216h3v4h-3zM724 216h3v4h-3zM733 216h2v4h-2zM741 216h3v4h-3zM747 216h2v4h-2zM819 216h3v4h-3zM855 216h3v4h-3zM866 216h3v4h-3zM874 216h3v4h-3zM680 220h3v4h-3zM724 220h3v4h-3zM735 220h3v4h-3zM747 220h2v4h-2zM858 220h2v4h-2zM869 220h5v4h-5zM691 224h3v4h-3zM711 224h2v4h-2zM772 224h2v4h-2zM866 224h3v4h-3zM871 224h3v4h-3zM711 228h2v4h-2zM727 228h3v4h-3z"/>
<path fill="#0060e0" d="M686 166h2v4h-2zM683 170h3v4h-3zM697 174h2v4h-2zM683 178h3v4h-3zM688 178h3v4h-3zM808 178h2v4h-2zM816 178h3v4h-3zM691 182h3v4h-3zM777 182h3v4h-3zM783 182h2v4h-2zM805 182h3v4h-3zM810 182h9v4h-9zM691 186h3v3h-3zM699 186h3v3h-3zM763 186h3v3h-3zM774 186h3v3h-3zM799 186h3v3h-3zM816 186h3v3h-3zM841 186h3v3h-3zM683 189h5v4h-5zM760 189h3v4h-3zM780 189h3v4h-3zM791 189h3v4h-3zM802 189h6v4h-6zM822 189h2v4h-2zM683 193h3v4h-3zM694 193h3v4h-3zM713 193h3v4h-3zM719 193h3v4h-3zM774 193h3v4h-3zM785 193h3v4h-3zM791 193h3v4h-3zM797 193h5v4h-5zM808 193h2v4h-2zM830 193h8v4h-8zM844 193h2v4h-2zM713 197h3v4h-3zM744 197h3v4h-3zM755 197h3v4h-3zM769 197h3v4h-3zM774 197h3v4h-3zM780 197h5v4h-5zM788 197h6v4h-6zM797 197h8v4h-8zM810 197h3v4h-3zM822 197h5v4h-5zM830 197h3v4h-3zM835 197h3v4h-3zM844 197h5v4h-5zM705 201h3v4h-3zM744 201h3v4h-3zM758 201h5v4h-5zM769 201h5v4h-5zM777 201h6v4h-6zM788 201h6v4h-6zM797 201h13v4h-13zM816 201h6v4h-6zM824 201h11v4h-11zM841 201h3v4h-3zM846 201h6v4h-6zM680 205h6v3h-6zM694 205h3v3h-3zM702 205h3v3h-3zM724 205h3v3h-3zM738 205h6v3h-6zM747 205h2v3h-2zM755 205h14v3h-14zM772 205h2v3h-2zM777 205h8v3h-8zM791 205h3v3h-3zM802 205h6v3h-6zM810 205h6v3h-6zM819 205h3v3h-3zM827 205h6v3h-6zM835 205h3v3h-3zM841 205h3v3h-3zM849 205h6v3h-6zM866 205h3v3h-3zM683 208h3v4h-3zM691 208h8v4h-8zM747 208h5v4h-5zM755 208h5v4h-5zM763 208h6v4h-6zM772 208h8v4h-8zM783 208h2v4h-2zM788 208h3v4h-3zM794 208h5v4h-5zM802 208h14v4h-14zM819 208h3v4h-3zM827 208h3v4h-3zM833 208h2v4h-2zM852 208h3v4h-3zM683 212h3v4h-3zM688 212h11v4h-11zM713 212h3v4h-3zM722 212h5v4h-5zM730 212h3v4h-3zM735 212h6v4h-6zM744 212h25v4h-25zM774 212h6v4h-6zM797 212h2v4h-2zM802 212h3v4h-3zM810 212h6v4h-6zM819 212h3v4h-3zM827 212h3v4h-3zM838 212h3v4h-3zM849 212h6v4h-6zM858 212h2v4h-2zM680 216h3v4h-3zM688 216h11v4h-11zM702 216h3v4h-3zM708 216h8v4h-8zM719 216h5v4h-5zM727 216h6v4h-6zM735 216h6v4h-6zM749 216h3v4h-3zM758 216h2v4h-2zM763 216h6v4h-6zM774 216h3v4h-3zM797 216h13v4h-13zM816 216h3v4h-3zM835 216h3v4h-3zM849 216h6v4h-6zM869 216h2v4h-2zM683 220h28v4h-28zM713 220h6v4h-6zM722 220h2v4h-2zM730 220h5v4h-5zM741 220h6v4h-6zM749 220h11v4h-11zM763 220h3v4h-3zM769 220h3v4h-3zM774 220h3v4h-3zM799 220h3v4h-3zM852 220h6v4h-6zM860 220h9v4h-9zM874 220h3v4h-3zM683 224h3v4h-3zM694 224h3v4h-3zM705 224h3v4h-3zM713 224h11v4h-11zM727 224h14v4h-14zM752 224h3v4h-3zM808 224h2v4h-2zM860 224h3v4h-3zM869 224h2v4h-2zM683 228h3v4h-3zM691 228h6v4h-6zM702 228h3v4h-3zM708 228h3v4h-3zM713 228h11v4h-11zM730 228h5v4h-5zM744 228h3v4h-3zM810 228h3v4h-3zM860 228h6v4h-6zM871 228h6v4h-6zM688 232h3v3h-3zM694 232h3v3h-3zM702 232h3v3h-3zM713 232h3v3h-3zM719 232h5v3h-5zM730 232h3v3h-3zM735 232h3v3h-3zM871 232h6v3h-6zM691 235h3v4h-3zM699 235h3v4h-3zM711 239h2v4h-2zM719 239h3v4h-3z"/>
<path fill="#0030b8" d="M772 193h2v4h-2zM760 197h3v4h-3zM777 197h3v4h-3zM833 197h2v4h-2zM747 201h2v4h-2zM783 201h2v4h-2zM774 205h3v3h-3zM785 205h3v3h-3zM822 205h2v3h-2zM833 205h2v3h-2zM838 205h3v3h-3zM680 208h3v4h-3zM752 208h3v4h-3zM760 208h3v4h-3zM780 208h3v4h-3zM785 208h3v4h-3zM791 208h3v4h-3zM799 208h3v4h-3zM830 208h3v4h-3zM841 208h3v4h-3zM846 208h3v4h-3zM680 212h3v4h-3zM686 212h2v4h-2zM708 212h3v4h-3zM733 212h2v4h-2zM780 212h17v4h-17zM799 212h3v4h-3zM808 212h2v4h-2zM816 212h3v4h-3zM822 212h5v4h-5zM833 212h2v4h-2zM844 212h2v4h-2zM683 216h3v4h-3zM699 216h3v4h-3zM705 216h3v4h-3zM744 216h3v4h-3zM752 216h6v4h-6zM760 216h3v4h-3zM769 216h3v4h-3zM780 216h5v4h-5zM791 216h6v4h-6zM810 216h6v4h-6zM824 216h3v4h-3zM846 216h3v4h-3zM858 216h8v4h-8zM711 220h2v4h-2zM727 220h3v4h-3zM738 220h3v4h-3zM760 220h3v4h-3zM772 220h2v4h-2zM777 220h3v4h-3zM785 220h3v4h-3zM791 220h8v4h-8zM802 220h3v4h-3zM810 220h6v4h-6zM680 224h3v4h-3zM688 224h3v4h-3zM697 224h8v4h-8zM708 224h3v4h-3zM724 224h3v4h-3zM741 224h11v4h-11zM760 224h6v4h-6zM805 224h3v4h-3zM858 224h2v4h-2zM680 228h3v4h-3zM686 228h5v4h-5zM697 228h5v4h-5zM705 228h3v4h-3zM724 228h3v4h-3zM735 228h9v4h-9zM747 228h11v4h-11zM760 228h3v4h-3zM791 228h3v4h-3zM813 228h3v4h-3zM852 228h3v4h-3zM866 228h5v4h-5zM686 232h2v3h-2zM697 232h2v3h-2zM705 232h8v3h-8zM716 232h3v3h-3zM724 232h6v3h-6zM747 232h8v3h-8zM869 232h2v3h-2zM680 235h8v4h-8zM694 235h3v4h-3zM702 235h25v4h-25zM738 235h3v4h-3zM747 235h5v4h-5zM860 235h6v4h-6zM869 235h5v4h-5zM686 239h2v4h-2zM691 239h3v4h-3zM708 239h3v4h-3zM713 239h6v4h-6zM724 239h3v4h-3zM708 243h3v4h-3zM713 243h3v4h-3zM727 243h3v4h-3zM724 247h3v4h-3z"/>
<path fill="#0018a8" d="M830 212h3v4h-3zM777 216h3v4h-3zM785 216h3v4h-3zM822 216h2v4h-2zM827 216h3v4h-3zM833 216h2v4h-2zM780 220h3v4h-3zM788 220h3v4h-3zM816 220h6v4h-6zM824 220h9v4h-9zM841 220h3v4h-3zM766 224h3v4h-3zM774 224h6v4h-6zM785 224h6v4h-6zM799 224h6v4h-6zM816 224h6v4h-6zM830 224h5v4h-5zM841 224h3v4h-3zM852 224h3v4h-3zM863 224h3v4h-3zM763 228h3v4h-3zM777 228h14v4h-14zM797 228h8v4h-8zM816 228h3v4h-3zM824 228h3v4h-3zM830 228h3v4h-3zM835 228h3v4h-3zM841 228h3v4h-3zM846 228h6v4h-6zM855 228h3v4h-3zM741 232h3v3h-3zM760 232h3v3h-3zM769 232h3v3h-3zM794 232h3v3h-3zM802 232h6v3h-6zM824 232h3v3h-3zM833 232h2v3h-2zM838 232h6v3h-6zM849 232h3v3h-3zM752 235h6v4h-6zM760 235h3v4h-3zM766 235h8v4h-8zM777 235h3v4h-3zM783 235h5v4h-5zM805 235h3v4h-3zM816 235h6v4h-6zM824 235h3v4h-3zM844 235h2v4h-2zM849 235h3v4h-3zM858 235h2v4h-2zM697 239h2v4h-2zM744 239h3v4h-3zM749 239h3v4h-3zM760 239h3v4h-3zM766 239h6v4h-6zM774 239h11v4h-11zM791 239h3v4h-3zM799 239h9v4h-9zM816 239h3v4h-3zM827 239h6v4h-6zM838 239h6v4h-6zM846 239h6v4h-6zM866 239h5v4h-5zM874 239h3v4h-3zM683 243h3v4h-3zM688 243h3v4h-3zM699 243h3v4h-3zM711 243h2v4h-2zM716 243h3v4h-3zM724 243h3v4h-3zM733 243h2v4h-2zM738 243h6v4h-6zM755 243h3v4h-3zM774 243h3v4h-3zM785 243h3v4h-3zM794 243h5v4h-5zM802 243h3v4h-3zM813 243h9v4h-9zM838 243h3v4h-3zM844 243h8v4h-8zM855 243h3v4h-3zM694 247h3v4h-3zM711 247h2v4h-2zM730 247h3v4h-3zM735 247h9v4h-9zM747 247h2v4h-2zM755 247h3v4h-3zM763 247h6v4h-6zM774 247h3v4h-3zM794 247h5v4h-5zM802 247h3v4h-3zM816 247h3v4h-3zM858 247h5v4h-5zM871 247h3v4h-3zM699 251h3v3h-3zM708 251h3v3h-3zM722 251h2v3h-2zM727 251h3v3h-3zM747 251h2v3h-2zM760 251h6v3h-6zM808 251h2v3h-2zM819 251h3v3h-3zM827 251h3v3h-3zM841 251h3v3h-3zM874 251h3v3h-3zM691 254h3v4h-3zM697 254h2v4h-2zM702 254h3v4h-3zM752 254h3v4h-3zM763 254h3v4h-3zM791 254h3v4h-3zM810 254h3v4h-3zM849 254h3v4h-3zM688 258h3v4h-3zM827 258h3v4h-3zM858 258h2v4h-2z"/>
</g>
<g shape-rendering="crispEdges">
<rect x="680" y="266" width="197" height="1" fill="#fff"/>
<rect x="679" y="35" width="199" height="1" fill="#000"/>
<rect x="679" y="267" width="199" height="1" fill="#000"/>
<rect x="679" y="35" width="1" height="233" fill="#000"/>
<rect x="877" y="35" width="1" height="233" fill="#000"/>
<rect x="703" y="32" width="1" height="3" fill="#000"/>
<rect x="703" y="268" width="1" height="2" fill="#000"/>
<rect x="703" y="322" width="1" height="3" fill="#000"/>
<rect x="703" y="558" width="1" height="2" fill="#000"/>
<rect x="731" y="32" width="1" height="3" fill="#000"/>
<rect x="731" y="268" width="1" height="2" fill="#000"/>
<rect x="731" y="322" width="1" height="3" fill="#000"/>
<rect x="731" y="558" width="1" height="2" fill="#000"/>
<rect x="759" y="32" width="1" height="3" fill="#000"/>
<rect x="759" y="268" width="1" height="2" fill="#000"/>
<rect x="759" y="322" width="1" height="3" fill="#000"/>
<rect x="759" y="558" width="1" height="2" fill="#000"/>
<rect x="786" y="32" width="1" height="3" fill="#000"/>
<rect x="786" y="268" width="1" height="2" fill="#000"/>
<rect x="786" y="322" width="1" height="3" fill="#000"/>
<rect x="786" y="558" width="1" height="2" fill="#000"/>
<rect x="814" y="32" width="1" height="3" fill="#000"/>
<rect x="814" y="268" width="1" height="2" fill="#000"/>
<rect x="814" y="322" width="1" height="3" fill="#000"/>
<rect x="814" y="558" width="1" height="2" fill="#000"/>
<rect x="842" y="32" width="1" height="3" fill="#000"/>
<rect x="842" y="268" width="1" height="2" fill="#000"/>
<rect x="842" y="322" width="1" height="3" fill="#000"/>
<rect x="842" y="558" width="1" height="2" fill="#000"/>
<rect x="869" y="32" width="1" height="3" fill="#000"/>
<rect x="869" y="268" width="1" height="2" fill="#000"/>
<rect x="869" y="322" width="1" height="3" fill="#000"/>
<rect x="869" y="558" width="1" height="2" fill="#000"/>
<rect x="677" y="67" width="2" height="1" fill="#000"/>
<rect x="878" y="67" width="2" height="1" fill="#000"/>
<rect x="677" y="357" width="2" height="1" fill="#000"/>
<rect x="878" y="357" width="2" height="1" fill="#000"/>
<rect x="677" y="106" width="2" height="1" fill="#000"/>
<rect x="878" y="106" width="2" height="1" fill="#000"/>
<rect x="677" y="396" width="2" height="1" fill="#000"/>
<rect x="878" y="396" width="2" height="1" fill="#000"/>
<rect x="677" y="144" width="2" height="1" fill="#000"/>
<rect x="878" y="144" width="2" height="1" fill="#000"/>
<rect x="677" y="434" width="2" height="1" fill="#000"/>
<rect x="878" y="434" width="2" height="1" fill="#000"/>
<rect x="677" y="183" width="2" height="1" fill="#000"/>
<rect x="878" y="183" width="2" height="1" fill="#000"/>
<rect x="677" y="473" width="2" height="1" fill="#000"/>
<rect x="878" y="473" width="2" height="1" fill="#000"/>
<rect x="677" y="221" width="2" height="1" fill="#000"/>
<rect x="878" y="221" width="2" height="1" fill="#000"/>
<rect x="677" y="511" width="2" height="1" fill="#000"/>
<rect x="878" y="511" width="2" height="1" fill="#000"/>
<rect x="677" y="260" width="2" height="1" fill="#000"/>
<rect x="878" y="260" width="2" height="1" fill="#000"/>
<rect x="677" y="550" width="2" height="1" fill="#000"/>
<rect x="878" y="550" width="2" height="1" fill="#000"/>
</g>
<circle cx="778.5" cy="151.5" r="5" fill="none" stroke="#000" stroke-width="1" shape-rendering="crispEdges"/>
<g clip-path="url(#m2)" shape-rendering="crispEdges">
<rect x="679" y="325" width="199" height="232" fill="#00d800"/>
<path fill="#fb8400" d="M680 326h3v4h-3zM716 364h3v4h-3zM686 544h8v4h-8zM683 548h14v4h-14zM686 552h8v4h-8z"/>
<path fill="#ffac00" d="M683 326h3v4h-3zM680 330h3v4h-3zM688 345h3v4h-3zM691 349h3v4h-3zM772 349h5v4h-5zM772 353h2v4h-2zM777 468h3v4h-3zM686 541h8v3h-8zM697 544h2v4h-2zM697 552h2v4h-2z"/>
<path fill="#ff9000" d="M686 326h2v4h-2zM686 338h2v3h-2zM683 544h3v4h-3zM694 544h3v4h-3zM683 552h3v4h-3zM694 552h3v4h-3z"/>
<path fill="#e85000" d="M688 326h3v4h-3zM699 357h3v3h-3z"/>
<path fill="#c51800" d="M691 326h3v4h-3zM699 326h3v4h-3zM713 326h3v4h-3zM716 334h3v4h-3zM716 357h3v3h-3zM713 360h3v4h-3z"/>
<path fill="#ba1000" d="M694 326h5v4h-5zM716 338h3v3h-3zM716 345h3v4h-3zM716 349h3v4h-3zM716 353h3v4h-3zM708 360h5v4h-5z"/>
<path fill="#a50000" d="M702 326h9v4h-9zM694 330h17v4h-17zM713 330h3v4h-3zM691 334h17v4h-17zM711 334h5v4h-5zM691 338h25v3h-25zM694 341h22v4h-22zM694 345h22v4h-22zM697 349h19v4h-19zM702 353h14v4h-14zM705 357h11v3h-11z"/>
<path fill="#b00800" d="M711 326h2v4h-2zM691 330h3v4h-3zM711 330h2v4h-2zM708 334h3v4h-3zM691 341h3v4h-3zM716 341h3v4h-3zM699 353h3v4h-3zM702 357h3v3h-3z"/>
<path fill="#ffba00" d="M716 326h3v4h-3zM719 345h3v4h-3zM769 345h11v4h-11zM766 349h6v4h-6zM777 349h6v4h-6zM766 353h6v4h-6zM774 353h9v4h-9zM769 357h5v3h-5zM719 364h3v4h-3zM777 464h3v4h-3zM774 468h3v4h-3zM683 541h3v3h-3zM694 541h3v3h-3zM680 544h3v4h-3zM680 552h3v4h-3z"/>
<path fill="#98f200" d="M719 326h3v4h-3zM827 326h3v4h-3zM846 326h3v4h-3zM719 330h3v4h-3zM727 330h3v4h-3zM760 330h6v4h-6zM780 330h3v4h-3zM791 330h8v4h-8zM824 330h3v4h-3zM752 334h3v4h-3zM785 334h3v4h-3zM802 334h3v4h-3zM824 334h3v4h-3zM680 338h3v3h-3zM749 338h3v3h-3zM805 338h3v3h-3zM680 341h3v4h-3zM747 341h2v4h-2zM808 341h2v4h-2zM824 341h3v4h-3zM680 345h3v4h-3zM730 345h3v4h-3zM744 345h3v4h-3zM824 345h3v4h-3zM869 345h2v4h-2zM730 349h3v4h-3zM744 349h3v4h-3zM824 349h6v4h-6zM730 353h3v4h-3zM744 353h3v4h-3zM808 353h2v4h-2zM824 353h6v4h-6zM744 357h3v3h-3zM808 357h2v3h-2zM824 357h3v3h-3zM747 360h2v4h-2zM727 364h3v4h-3zM758 364h5v4h-5zM799 364h3v4h-3zM824 364h3v4h-3zM855 364h3v4h-3zM866 364h3v4h-3zM697 368h2v4h-2zM724 368h3v4h-3zM794 368h5v4h-5zM858 368h2v4h-2zM694 372h3v4h-3zM711 372h8v4h-8zM769 372h22v4h-22zM797 372h2v4h-2zM824 372h3v4h-3zM852 372h3v4h-3zM694 376h11v4h-11zM783 376h2v4h-2zM802 376h3v4h-3zM849 376h3v4h-3zM744 380h11v4h-11zM805 380h3v4h-3zM846 380h3v4h-3zM758 384h2v3h-2zM780 384h3v3h-3zM833 384h5v3h-5zM841 384h5v3h-5zM760 387h3v4h-3zM808 387h2v4h-2zM680 391h3v4h-3zM735 391h3v4h-3zM780 391h3v4h-3zM849 391h3v4h-3zM855 391h3v4h-3zM735 395h3v4h-3zM858 395h2v4h-2zM808 399h2v4h-2zM846 399h3v4h-3zM686 403h2v3h-2zM738 403h3v3h-3zM780 403h3v3h-3zM808 403h2v3h-2zM719 406h8v4h-8zM741 406h3v4h-3zM755 406h3v4h-3zM849 406h3v4h-3zM858 406h2v4h-2zM863 406h3v4h-3zM713 410h3v4h-3zM724 410h3v4h-3zM783 410h2v4h-2zM813 410h3v4h-3zM827 410h3v4h-3zM855 410h3v4h-3zM871 410h3v4h-3zM711 414h2v4h-2zM724 414h3v4h-3zM730 414h5v4h-5zM766 414h11v4h-11zM788 414h3v4h-3zM799 414h3v4h-3zM808 414h2v4h-2zM833 414h2v4h-2zM874 414h3v4h-3zM708 418h3v4h-3zM727 418h6v4h-6zM735 418h3v4h-3zM766 418h11v4h-11zM805 418h3v4h-3zM835 418h3v4h-3zM874 418h3v4h-3zM769 422h3v4h-3zM805 422h3v4h-3zM874 422h3v4h-3zM705 426h3v4h-3zM738 426h3v4h-3zM805 426h3v4h-3zM863 426h3v4h-3zM869 426h5v4h-5zM705 430h3v3h-3zM738 430h3v3h-3zM808 430h2v3h-2zM833 430h5v3h-5zM705 433h3v4h-3zM738 433h3v4h-3zM810 433h3v4h-3zM827 433h3v4h-3zM705 437h3v4h-3zM738 437h3v4h-3zM816 437h11v4h-11zM680 441h3v4h-3zM705 441h3v4h-3zM738 441h3v4h-3zM813 441h3v4h-3zM827 441h3v4h-3zM683 445h3v4h-3zM738 445h3v4h-3zM769 445h14v4h-14zM802 445h8v4h-8zM769 449h3v3h-3zM783 449h2v3h-2zM838 449h3v3h-3zM705 452h3v4h-3zM733 452h5v4h-5zM766 452h3v4h-3zM860 452h3v4h-3zM871 452h3v4h-3zM711 456h2v4h-2zM763 456h3v4h-3zM785 456h3v4h-3zM802 456h3v4h-3zM858 456h2v4h-2zM760 460h3v4h-3zM805 460h3v4h-3zM841 460h3v4h-3zM855 460h3v4h-3zM680 464h3v4h-3zM688 464h3v4h-3zM808 464h2v4h-2zM841 464h3v4h-3zM855 464h3v4h-3zM788 468h3v4h-3zM841 468h3v4h-3zM855 468h3v4h-3zM760 472h3v4h-3zM808 472h2v4h-2zM858 472h2v4h-2zM694 476h3v3h-3zM810 476h3v3h-3zM838 476h3v3h-3zM860 476h3v3h-3zM763 479h3v4h-3zM785 479h3v4h-3zM810 479h3v4h-3zM835 479h3v4h-3zM783 483h2v4h-2zM816 483h3v4h-3zM830 483h5v4h-5zM697 487h2v4h-2zM769 487h5v4h-5zM780 487h3v4h-3zM866 487h8v4h-8zM697 491h2v4h-2zM774 491h6v4h-6zM694 495h3v3h-3zM863 495h3v3h-3zM863 498h3v4h-3zM680 502h3v4h-3zM688 502h3v4h-3zM808 502h2v4h-2zM822 502h8v4h-8zM863 502h3v4h-3zM794 506h3v4h-3zM833 506h2v4h-2zM785 510h6v4h-6zM869 510h5v4h-5zM766 514h8v4h-8zM783 514h2v4h-2zM686 518h19v4h-19zM777 518h3v4h-3zM838 518h3v4h-3zM680 522h3v3h-3zM708 522h3v3h-3zM727 522h3v3h-3zM735 522h3v3h-3zM760 522h3v3h-3zM841 522h3v3h-3zM711 525h2v4h-2zM844 525h2v4h-2zM711 529h2v4h-2zM846 529h3v4h-3zM711 533h5v4h-5zM846 533h3v4h-3zM713 537h6v4h-6zM727 537h3v4h-3zM760 537h3v4h-3zM846 537h3v4h-3zM716 541h3v3h-3zM735 541h3v3h-3zM844 541h2v3h-2zM716 544h3v4h-3zM730 544h5v4h-5zM783 544h5v4h-5zM841 544h5v4h-5zM713 548h3v4h-3zM760 548h3v4h-3zM777 548h3v4h-3zM788 548h6v4h-6zM838 548h3v4h-3zM711 552h2v4h-2zM763 552h3v4h-3zM774 552h3v4h-3zM797 552h8v4h-8zM827 552h8v4h-8z"/>
<path fill="#84ef00" d="M722 326h5v4h-5zM763 326h17v4h-17zM822 326h5v4h-5zM755 330h5v4h-5zM783 330h8v4h-8zM799 330h3v4h-3zM822 330h2v4h-2zM805 334h3v4h-3zM849 334h3v4h-3zM730 338h3v3h-3zM808 338h2v3h-2zM730 341h3v4h-3zM744 341h3v4h-3zM810 341h3v4h-3zM822 341h2v4h-2zM852 341h3v4h-3zM741 345h3v4h-3zM810 345h3v4h-3zM822 345h2v4h-2zM871 345h3v4h-3zM688 349h3v4h-3zM741 349h3v4h-3zM810 349h3v4h-3zM822 349h2v4h-2zM874 349h3v4h-3zM741 353h3v4h-3zM810 353h3v4h-3zM822 353h2v4h-2zM874 353h3v4h-3zM730 357h3v3h-3zM741 357h3v3h-3zM810 357h3v3h-3zM822 357h2v3h-2zM871 357h3v3h-3zM730 360h3v4h-3zM744 360h3v4h-3zM805 360h5v4h-5zM822 360h2v4h-2zM869 360h2v4h-2zM747 364h11v4h-11zM802 364h3v4h-3zM822 364h2v4h-2zM727 368h3v4h-3zM763 368h3v4h-3zM799 368h3v4h-3zM855 368h3v4h-3zM863 368h3v4h-3zM766 372h3v4h-3zM799 372h3v4h-3zM855 372h5v4h-5zM705 376h8v4h-8zM852 376h3v4h-3zM741 380h3v4h-3zM755 380h3v4h-3zM780 380h3v4h-3zM827 380h3v4h-3zM849 380h3v4h-3zM738 384h3v3h-3zM760 384h3v3h-3zM808 384h2v3h-2zM830 384h3v3h-3zM846 384h3v3h-3zM735 387h3v4h-3zM777 387h3v4h-3zM810 387h3v4h-3zM833 387h13v4h-13zM683 391h3v4h-3zM763 391h3v4h-3zM810 391h3v4h-3zM763 395h3v4h-3zM780 395h3v4h-3zM810 395h3v4h-3zM846 395h3v4h-3zM686 399h2v4h-2zM724 399h3v4h-3zM735 399h3v4h-3zM780 399h3v4h-3zM810 399h3v4h-3zM719 403h11v3h-11zM760 403h3v3h-3zM846 403h3v3h-3zM716 406h3v4h-3zM727 406h6v4h-6zM758 406h2v4h-2zM780 406h3v4h-3zM808 406h2v4h-2zM866 406h3v4h-3zM711 410h2v4h-2zM727 410h8v4h-8zM744 410h3v4h-3zM805 410h3v4h-3zM810 410h3v4h-3zM830 410h5v4h-5zM708 414h3v4h-3zM727 414h3v4h-3zM735 414h3v4h-3zM758 414h2v4h-2zM763 414h3v4h-3zM777 414h3v4h-3zM785 414h3v4h-3zM802 414h6v4h-6zM835 414h3v4h-3zM738 418h3v4h-3zM749 418h6v4h-6zM763 418h3v4h-3zM777 418h3v4h-3zM791 418h8v4h-8zM838 418h3v4h-3zM705 422h3v4h-3zM738 422h3v4h-3zM766 422h3v4h-3zM772 422h5v4h-5zM802 422h3v4h-3zM838 422h3v4h-3zM855 422h3v4h-3zM838 426h3v4h-3zM860 426h3v4h-3zM805 430h3v3h-3zM830 433h3v4h-3zM813 437h3v4h-3zM827 437h3v4h-3zM772 441h8v4h-8zM810 441h3v4h-3zM830 441h8v4h-8zM680 445h3v4h-3zM686 445h2v4h-2zM783 445h2v4h-2zM799 445h3v4h-3zM838 445h3v4h-3zM738 449h3v3h-3zM766 449h3v3h-3zM799 449h3v3h-3zM866 449h5v3h-5zM738 452h3v4h-3zM763 452h3v4h-3zM785 452h3v4h-3zM799 452h3v4h-3zM874 452h3v4h-3zM708 456h3v4h-3zM713 456h22v4h-22zM760 456h3v4h-3zM841 456h3v4h-3zM855 456h3v4h-3zM683 460h8v4h-8zM758 460h2v4h-2zM788 460h3v4h-3zM802 460h3v4h-3zM691 464h3v4h-3zM758 464h2v4h-2zM788 464h3v4h-3zM805 464h3v4h-3zM844 464h2v4h-2zM758 468h2v4h-2zM808 468h2v4h-2zM694 472h3v4h-3zM788 472h3v4h-3zM841 472h3v4h-3zM855 472h3v4h-3zM760 476h3v3h-3zM808 476h2v3h-2zM858 476h2v3h-2zM874 476h3v3h-3zM838 479h3v4h-3zM863 479h8v4h-8zM697 483h2v4h-2zM763 483h3v4h-3zM785 483h3v4h-3zM813 483h3v4h-3zM766 487h3v4h-3zM783 487h2v4h-2zM819 487h14v4h-14zM874 487h3v4h-3zM699 491h3v4h-3zM769 491h5v4h-5zM780 491h3v4h-3zM863 491h3v4h-3zM697 495h2v3h-2zM694 498h3v4h-3zM802 498h6v4h-6zM691 502h3v4h-3zM797 502h2v4h-2zM810 502h3v4h-3zM816 502h6v4h-6zM830 502h3v4h-3zM683 506h5v4h-5zM788 506h6v4h-6zM769 510h3v4h-3zM783 510h2v4h-2zM835 510h3v4h-3zM866 510h3v4h-3zM874 510h3v4h-3zM763 514h3v4h-3zM774 514h9v4h-9zM680 518h6v4h-6zM705 518h3v4h-3zM730 518h8v4h-8zM760 518h3v4h-3zM711 522h2v3h-2zM844 522h2v3h-2zM713 525h3v4h-3zM760 525h3v4h-3zM846 525h3v4h-3zM713 529h6v4h-6zM849 529h6v4h-6zM716 533h3v4h-3zM849 533h3v4h-3zM719 537h3v4h-3zM719 541h3v3h-3zM727 541h3v3h-3zM846 541h3v3h-3zM735 544h3v4h-3zM780 544h3v4h-3zM846 544h3v4h-3zM716 548h3v4h-3zM730 548h5v4h-5zM783 548h5v4h-5zM841 548h5v4h-5zM713 552h3v4h-3zM791 552h6v4h-6zM835 552h6v4h-6z"/>
<path fill="#70ec00" d="M727 326h3v4h-3zM758 326h5v4h-5zM780 326h5v4h-5zM788 326h11v4h-11zM819 326h3v4h-3zM849 326h3v4h-3zM752 330h3v4h-3zM802 330h3v4h-3zM819 330h3v4h-3zM849 330h3v4h-3zM749 334h3v4h-3zM808 334h2v4h-2zM822 334h2v4h-2zM747 338h2v3h-2zM810 338h3v3h-3zM822 338h2v3h-2zM813 341h3v4h-3zM858 341h8v4h-8zM813 345h3v4h-3zM819 345h3v4h-3zM738 349h3v4h-3zM813 349h3v4h-3zM819 349h3v4h-3zM738 353h3v4h-3zM813 353h3v4h-3zM819 353h3v4h-3zM738 357h3v3h-3zM813 357h3v3h-3zM819 357h3v3h-3zM697 360h2v4h-2zM741 360h3v4h-3zM810 360h3v4h-3zM871 360h3v4h-3zM744 364h3v4h-3zM805 364h3v4h-3zM869 364h2v4h-2zM749 368h6v4h-6zM760 368h3v4h-3zM822 368h2v4h-2zM866 368h3v4h-3zM719 372h8v4h-8zM763 372h3v4h-3zM802 372h3v4h-3zM860 372h3v4h-3zM691 376h3v4h-3zM713 376h6v4h-6zM766 376h17v4h-17zM805 376h3v4h-3zM824 376h3v4h-3zM855 376h3v4h-3zM699 380h12v4h-12zM758 380h2v4h-2zM777 380h3v4h-3zM808 380h2v4h-2zM824 380h3v4h-3zM852 380h3v4h-3zM777 384h3v3h-3zM810 384h3v3h-3zM827 384h3v3h-3zM849 384h3v3h-3zM680 387h6v4h-6zM763 387h3v4h-3zM830 387h3v4h-3zM846 387h9v4h-9zM733 391h2v4h-2zM777 391h3v4h-3zM833 391h13v4h-13zM686 395h2v4h-2zM722 395h5v4h-5zM733 395h2v4h-2zM719 399h5v4h-5zM727 399h3v4h-3zM763 399h3v4h-3zM777 399h3v4h-3zM860 399h3v4h-3zM716 403h3v3h-3zM730 403h3v3h-3zM735 403h3v3h-3zM777 403h3v3h-3zM810 403h3v3h-3zM860 403h6v3h-6zM711 406h5v4h-5zM733 406h2v4h-2zM738 406h3v4h-3zM760 406h3v4h-3zM777 406h3v4h-3zM810 406h20v4h-20zM869 406h2v4h-2zM708 410h3v4h-3zM735 410h3v4h-3zM758 410h2v4h-2zM769 410h8v4h-8zM780 410h3v4h-3zM808 410h2v4h-2zM835 410h3v4h-3zM852 410h3v4h-3zM874 410h3v4h-3zM738 414h3v4h-3zM744 414h3v4h-3zM760 414h3v4h-3zM783 414h2v4h-2zM838 414h3v4h-3zM852 414h3v4h-3zM705 418h3v4h-3zM747 418h2v4h-2zM760 418h3v4h-3zM785 418h6v4h-6zM799 418h6v4h-6zM852 418h3v4h-3zM763 422h3v4h-3zM841 422h3v4h-3zM741 426h3v4h-3zM802 426h3v4h-3zM858 426h2v4h-2zM874 426h3v4h-3zM741 430h3v3h-3zM838 430h3v3h-3zM741 433h3v4h-3zM808 433h2v4h-2zM833 433h5v4h-5zM741 437h3v4h-3zM810 437h3v4h-3zM835 437h3v4h-3zM702 441h3v4h-3zM741 441h3v4h-3zM769 441h3v4h-3zM780 441h3v4h-3zM805 441h5v4h-5zM838 441h3v4h-3zM702 445h3v4h-3zM741 445h3v4h-3zM766 445h3v4h-3zM797 445h2v4h-2zM841 445h3v4h-3zM683 449h5v3h-5zM702 449h3v3h-3zM741 449h3v3h-3zM763 449h3v3h-3zM785 449h3v3h-3zM797 449h2v3h-2zM841 449h3v3h-3zM863 449h3v3h-3zM871 449h3v3h-3zM702 452h3v4h-3zM788 452h3v4h-3zM841 452h3v4h-3zM858 452h2v4h-2zM683 456h5v4h-5zM705 456h3v4h-3zM735 456h6v4h-6zM758 456h2v4h-2zM788 456h3v4h-3zM799 456h3v4h-3zM680 460h3v4h-3zM711 460h5v4h-5zM755 460h3v4h-3zM844 460h2v4h-2zM802 464h3v4h-3zM852 464h3v4h-3zM694 468h3v4h-3zM805 468h3v4h-3zM844 468h2v4h-2zM758 472h2v4h-2zM805 472h3v4h-3zM844 472h2v4h-2zM697 476h2v3h-2zM788 476h3v3h-3zM805 476h3v3h-3zM841 476h3v3h-3zM697 479h2v4h-2zM760 479h3v4h-3zM788 479h3v4h-3zM808 479h2v4h-2zM860 479h3v4h-3zM871 479h3v4h-3zM810 483h3v4h-3zM835 483h3v4h-3zM699 487h3v4h-3zM816 487h3v4h-3zM833 487h2v4h-2zM824 491h6v4h-6zM699 495h3v3h-3zM772 495h8v3h-8zM697 498h2v4h-2zM799 498h3v4h-3zM808 498h2v4h-2zM822 498h8v4h-8zM794 502h3v4h-3zM813 502h3v4h-3zM833 502h2v4h-2zM680 506h3v4h-3zM688 506h3v4h-3zM783 506h5v4h-5zM863 506h3v4h-3zM763 510h6v4h-6zM772 510h11v4h-11zM683 514h22v4h-22zM730 514h5v4h-5zM760 514h3v4h-3zM838 514h3v4h-3zM708 518h5v4h-5zM727 518h3v4h-3zM758 518h2v4h-2zM841 518h3v4h-3zM713 522h3v3h-3zM846 522h3v3h-3zM716 525h3v4h-3zM738 525h3v4h-3zM849 525h6v4h-6zM719 529h3v4h-3zM738 529h3v4h-3zM760 529h3v4h-3zM855 529h3v4h-3zM719 533h3v4h-3zM738 533h3v4h-3zM760 533h3v4h-3zM852 533h3v4h-3zM722 537h2v4h-2zM738 537h3v4h-3zM849 537h3v4h-3zM722 541h2v3h-2zM849 541h3v3h-3zM719 544h3v4h-3zM727 544h3v4h-3zM758 544h2v4h-2zM719 548h3v4h-3zM735 548h3v4h-3zM758 548h2v4h-2zM780 548h3v4h-3zM846 548h3v4h-3zM716 552h3v4h-3zM730 552h5v4h-5zM760 552h3v4h-3zM777 552h3v4h-3zM785 552h6v4h-6zM841 552h5v4h-5z"/>
<path fill="#1cdd00" d="M730 326h3v4h-3zM749 326h3v4h-3zM810 326h3v4h-3zM747 334h2v4h-2zM852 334h3v4h-3zM733 341h2v4h-2zM738 341h3v4h-3zM871 341h3v4h-3zM680 349h6v4h-6zM691 353h3v4h-3zM733 364h2v4h-2zM810 364h9v4h-9zM874 364h3v4h-3zM694 368h3v4h-3zM733 368h5v4h-5zM805 368h3v4h-3zM871 368h3v4h-3zM730 372h11v4h-11zM819 372h3v4h-3zM869 372h2v4h-2zM686 376h2v4h-2zM730 376h3v4h-3zM735 376h6v4h-6zM810 376h3v4h-3zM819 376h3v4h-3zM863 376h6v4h-6zM686 380h5v4h-5zM722 380h13v4h-13zM813 380h9v4h-9zM860 380h6v4h-6zM686 384h2v3h-2zM697 384h2v3h-2zM727 384h6v3h-6zM766 384h8v3h-8zM816 384h6v3h-6zM858 384h5v3h-5zM686 387h2v4h-2zM702 387h3v4h-3zM769 387h3v4h-3zM816 387h8v4h-8zM858 387h5v4h-5zM705 391h11v4h-11zM769 391h3v4h-3zM819 391h5v4h-5zM860 391h6v4h-6zM708 395h5v4h-5zM769 395h3v4h-3zM819 395h8v4h-8zM863 395h6v4h-6zM708 399h3v4h-3zM769 399h3v4h-3zM816 399h17v4h-17zM866 399h5v4h-5zM688 403h3v3h-3zM705 403h3v3h-3zM769 403h5v3h-5zM833 403h13v3h-13zM871 403h3v3h-3zM688 406h3v4h-3zM705 406h3v4h-3zM766 406h8v4h-8zM838 406h8v4h-8zM841 410h8v4h-8zM846 414h6v4h-6zM846 418h6v4h-6zM747 422h5v4h-5zM758 422h2v4h-2zM846 422h6v4h-6zM747 426h2v4h-2zM760 426h3v4h-3zM777 426h14v4h-14zM846 426h3v4h-3zM852 426h3v4h-3zM699 430h3v3h-3zM747 430h2v3h-2zM763 430h20v3h-20zM785 430h14v3h-14zM846 430h3v3h-3zM697 433h2v4h-2zM747 433h5v4h-5zM763 433h9v4h-9zM780 433h8v4h-8zM797 433h5v4h-5zM844 433h2v4h-2zM871 433h3v4h-3zM691 437h8v4h-8zM747 437h5v4h-5zM760 437h6v4h-6zM785 437h20v4h-20zM844 437h5v4h-5zM691 441h8v4h-8zM747 441h5v4h-5zM758 441h5v4h-5zM788 441h6v4h-6zM846 441h3v4h-3zM869 441h5v4h-5zM691 445h8v4h-8zM747 445h5v4h-5zM755 445h5v4h-5zM858 445h5v4h-5zM874 445h3v4h-3zM691 449h8v3h-8zM747 449h5v3h-5zM755 449h3v3h-3zM855 449h3v3h-3zM694 452h5v4h-5zM747 452h8v4h-8zM852 452h3v4h-3zM694 456h8v4h-8zM744 456h8v4h-8zM794 456h3v4h-3zM846 456h6v4h-6zM697 460h5v4h-5zM744 460h8v4h-8zM794 460h3v4h-3zM699 464h6v4h-6zM716 464h6v4h-6zM741 464h6v4h-6zM749 464h3v4h-3zM794 464h5v4h-5zM699 468h14v4h-14zM752 468h3v4h-3zM794 468h5v4h-5zM699 472h3v4h-3zM752 472h3v4h-3zM794 472h3v4h-3zM799 472h3v4h-3zM849 472h3v4h-3zM752 476h3v3h-3zM802 476h3v3h-3zM849 476h6v3h-6zM702 479h3v4h-3zM755 479h3v4h-3zM791 479h3v4h-3zM844 479h2v4h-2zM855 479h3v4h-3zM702 483h3v4h-3zM755 483h3v4h-3zM791 483h3v4h-3zM841 483h3v4h-3zM860 483h3v4h-3zM788 487h3v4h-3zM805 487h3v4h-3zM860 487h3v4h-3zM785 491h3v4h-3zM797 491h5v4h-5zM810 491h6v4h-6zM860 491h3v4h-3zM763 495h3v3h-3zM783 495h2v3h-2zM794 495h3v3h-3zM813 495h6v3h-6zM833 495h2v3h-2zM860 495h3v3h-3zM702 498h3v4h-3zM766 498h3v4h-3zM783 498h11v4h-11zM860 498h3v4h-3zM699 502h6v4h-6zM763 502h11v4h-11zM835 502h3v4h-3zM860 502h3v4h-3zM697 506h14v4h-14zM758 506h5v4h-5zM708 510h5v4h-5zM735 510h3v4h-3zM755 510h3v4h-3zM716 514h3v4h-3zM738 514h3v4h-3zM752 514h3v4h-3zM863 514h3v4h-3zM719 518h3v4h-3zM724 518h3v4h-3zM846 518h6v4h-6zM855 518h5v4h-5zM866 518h8v4h-8zM722 522h2v3h-2zM755 522h3v3h-3zM866 522h11v3h-11zM741 525h3v4h-3zM866 525h11v4h-11zM741 529h3v4h-3zM758 529h2v4h-2zM866 529h3v4h-3zM758 533h2v4h-2zM863 533h3v4h-3zM858 537h5v4h-5zM741 541h3v3h-3zM855 541h5v3h-5zM741 544h3v4h-3zM855 544h8v4h-8zM741 548h3v4h-3zM752 548h3v4h-3zM855 548h14v4h-14zM741 552h6v4h-6zM752 552h3v4h-3zM852 552h17v4h-17z"/>
<path fill="#00d408" d="M733 326h2v4h-2zM733 330h2v4h-2zM733 334h2v4h-2zM741 338h3v3h-3zM858 338h8v3h-8zM810 368h3v4h-3zM816 368h3v4h-3zM816 372h3v4h-3zM688 387h3v4h-3zM688 391h3v4h-3zM688 395h3v4h-3zM702 414h3v4h-3zM755 422h3v4h-3zM691 426h3v4h-3zM697 426h2v4h-2zM749 426h9v4h-9zM752 430h6v3h-6zM852 430h8v3h-8zM849 433h3v4h-3zM852 437h3v4h-3zM866 437h3v4h-3zM852 441h11v4h-11zM849 445h6v4h-6zM849 449h6v3h-6zM849 452h3v4h-3zM716 468h3v4h-3zM738 468h3v4h-3zM711 472h2v4h-2zM744 472h3v4h-3zM744 476h3v3h-3zM797 476h2v3h-2zM708 479h3v4h-3zM747 479h2v4h-2zM794 479h3v4h-3zM849 479h3v4h-3zM708 483h3v4h-3zM747 483h2v4h-2zM794 483h3v4h-3zM844 483h2v4h-2zM855 483h3v4h-3zM708 487h3v4h-3zM747 487h11v4h-11zM794 487h5v4h-5zM708 491h3v4h-3zM758 491h2v4h-2zM788 491h3v4h-3zM711 495h2v3h-2zM760 495h3v3h-3zM711 498h2v4h-2zM749 498h3v4h-3zM758 498h5v4h-5zM711 502h2v4h-2zM749 502h6v4h-6zM838 502h3v4h-3zM713 506h3v4h-3zM730 506h3v4h-3zM735 506h3v4h-3zM747 506h5v4h-5zM716 510h3v4h-3zM738 510h3v4h-3zM747 510h2v4h-2zM860 510h3v4h-3zM719 514h3v4h-3zM747 514h2v4h-2zM846 514h3v4h-3zM855 514h3v4h-3zM722 518h2v4h-2zM741 518h6v4h-6zM744 522h5v3h-5zM752 522h3v3h-3zM744 525h3v4h-3zM755 525h3v4h-3zM869 533h2v4h-2zM866 537h8v4h-8zM744 541h3v3h-3zM866 541h5v3h-5zM747 544h5v4h-5z"/>
<path fill="#00c820" d="M735 326h3v4h-3zM744 326h3v4h-3zM858 326h2v4h-2zM874 326h3v4h-3zM744 330h3v4h-3zM855 330h3v4h-3zM735 334h3v4h-3zM741 334h3v4h-3zM694 364h3v4h-3zM691 391h3v4h-3zM697 391h2v4h-2zM691 418h3v4h-3zM699 418h3v4h-3zM694 422h5v4h-5zM716 472h6v4h-6zM733 472h5v4h-5zM713 476h3v3h-3zM738 476h3v3h-3zM741 483h3v4h-3zM713 487h3v4h-3zM741 487h3v4h-3zM844 487h2v4h-2zM852 487h3v4h-3zM841 491h3v4h-3zM738 502h6v4h-6zM841 502h3v4h-3zM858 502h2v4h-2zM724 506h3v4h-3zM846 506h3v4h-3zM849 510h6v4h-6zM749 525h6v4h-6zM747 537h2v4h-2zM752 537h3v4h-3z"/>
<path fill="#00c034" d="M738 326h6v4h-6zM863 326h11v4h-11zM738 330h3v4h-3zM860 330h3v4h-3zM874 330h3v4h-3zM869 334h5v4h-5zM691 368h3v4h-3zM686 372h2v4h-2zM694 395h5v4h-5zM691 399h3v4h-3zM699 399h3v4h-3zM691 403h3v3h-3zM691 406h3v4h-3zM691 410h3v4h-3zM699 414h3v4h-3zM694 418h5v4h-5zM716 476h3v3h-3zM724 476h11v3h-11zM735 479h3v4h-3zM738 483h3v4h-3zM716 487h3v4h-3zM738 487h3v4h-3zM844 491h11v4h-11zM733 495h8v3h-8zM844 495h5v3h-5zM852 495h3v3h-3zM719 498h3v4h-3zM727 498h3v4h-3zM738 498h3v4h-3zM844 498h14v4h-14zM719 502h3v4h-3zM724 502h3v4h-3zM849 502h6v4h-6zM749 529h3v4h-3zM749 533h3v4h-3z"/>
<path fill="#00d010" d="M747 326h2v4h-2zM747 330h2v4h-2zM744 334h3v4h-3zM735 338h6v3h-6zM866 338h3v3h-3zM813 368h3v4h-3zM810 372h3v4h-3zM691 387h8v4h-8zM702 395h3v4h-3zM702 410h3v4h-3zM691 422h3v4h-3zM699 422h3v4h-3zM694 426h3v4h-3zM852 433h3v4h-3zM863 433h3v4h-3zM855 437h3v4h-3zM863 437h3v4h-3zM719 468h11v4h-11zM733 468h5v4h-5zM713 472h3v4h-3zM741 472h3v4h-3zM711 476h2v3h-2zM741 476h3v3h-3zM711 479h2v4h-2zM744 479h3v4h-3zM797 479h5v4h-5zM711 483h2v4h-2zM744 483h3v4h-3zM797 483h5v4h-5zM846 483h3v4h-3zM711 487h2v4h-2zM841 487h3v4h-3zM858 487h2v4h-2zM711 491h2v4h-2zM747 491h11v4h-11zM838 491h3v4h-3zM858 491h2v4h-2zM747 495h13v3h-13zM713 498h3v4h-3zM747 498h2v4h-2zM752 498h6v4h-6zM838 498h3v4h-3zM713 502h3v4h-3zM747 502h2v4h-2zM727 506h3v4h-3zM744 506h3v4h-3zM841 506h3v4h-3zM724 510h3v4h-3zM744 510h3v4h-3zM844 510h2v4h-2zM858 510h2v4h-2zM722 514h2v4h-2zM741 514h6v4h-6zM849 514h6v4h-6zM749 522h3v3h-3zM755 529h3v4h-3zM755 533h3v4h-3zM744 537h3v4h-3zM755 537h3v4h-3zM747 541h2v3h-2z"/>
<path fill="#54e700" d="M752 326h6v4h-6zM785 326h3v4h-3zM799 326h6v4h-6zM805 330h5v4h-5zM816 330h3v4h-3zM730 334h3v4h-3zM810 334h3v4h-3zM819 334h3v4h-3zM813 338h3v3h-3zM819 338h3v3h-3zM852 338h3v3h-3zM741 341h3v4h-3zM816 341h6v4h-6zM855 341h3v4h-3zM866 341h3v4h-3zM738 345h3v4h-3zM816 345h3v4h-3zM874 345h3v4h-3zM735 349h3v4h-3zM816 349h3v4h-3zM733 353h5v4h-5zM816 353h3v4h-3zM735 357h3v3h-3zM816 357h3v3h-3zM874 357h3v3h-3zM735 360h6v4h-6zM813 360h3v4h-3zM819 360h3v4h-3zM697 364h2v4h-2zM730 364h3v4h-3zM738 364h6v4h-6zM819 364h3v4h-3zM744 368h5v4h-5zM755 368h5v4h-5zM802 368h3v4h-3zM727 372h3v4h-3zM749 372h6v4h-6zM758 372h5v4h-5zM822 372h2v4h-2zM863 372h3v4h-3zM744 376h11v4h-11zM760 376h6v4h-6zM822 376h2v4h-2zM858 376h2v4h-2zM694 380h5v4h-5zM711 380h8v4h-8zM738 380h3v4h-3zM760 380h3v4h-3zM810 380h3v4h-3zM855 380h3v4h-3zM680 384h6v3h-6zM702 384h17v3h-17zM735 384h3v3h-3zM763 384h3v3h-3zM774 384h3v3h-3zM824 384h3v3h-3zM852 384h3v3h-3zM733 387h2v4h-2zM774 387h3v4h-3zM813 387h3v4h-3zM827 387h3v4h-3zM855 387h3v4h-3zM722 391h5v4h-5zM766 391h3v4h-3zM774 391h3v4h-3zM813 391h3v4h-3zM830 391h3v4h-3zM846 391h3v4h-3zM858 391h2v4h-2zM719 395h3v4h-3zM727 395h3v4h-3zM766 395h3v4h-3zM774 395h6v4h-6zM813 395h3v4h-3zM835 395h11v4h-11zM713 399h6v4h-6zM730 399h5v4h-5zM774 399h3v4h-3zM813 399h3v4h-3zM711 403h5v3h-5zM733 403h2v3h-2zM763 403h3v3h-3zM813 403h3v3h-3zM866 403h3v3h-3zM708 406h3v4h-3zM735 406h3v4h-3zM830 406h5v4h-5zM846 406h3v4h-3zM871 406h3v4h-3zM738 410h6v4h-6zM766 410h3v4h-3zM777 410h3v4h-3zM849 410h3v4h-3zM705 414h3v4h-3zM741 414h3v4h-3zM780 414h3v4h-3zM688 418h3v4h-3zM741 418h3v4h-3zM755 418h5v4h-5zM780 418h5v4h-5zM841 418h3v4h-3zM688 422h3v4h-3zM741 422h3v4h-3zM760 422h3v4h-3zM777 422h3v4h-3zM788 422h14v4h-14zM852 422h3v4h-3zM688 426h3v4h-3zM702 426h3v4h-3zM763 426h11v4h-11zM799 426h3v4h-3zM841 426h3v4h-3zM688 430h3v3h-3zM702 430h3v3h-3zM802 430h3v3h-3zM841 430h3v3h-3zM866 430h8v3h-8zM688 433h3v4h-3zM702 433h3v4h-3zM744 433h3v4h-3zM805 433h3v4h-3zM838 433h3v4h-3zM688 437h3v4h-3zM702 437h3v4h-3zM744 437h3v4h-3zM769 437h11v4h-11zM808 437h2v4h-2zM830 437h5v4h-5zM838 437h3v4h-3zM688 441h3v4h-3zM744 441h3v4h-3zM766 441h3v4h-3zM783 441h2v4h-2zM797 441h8v4h-8zM841 441h3v4h-3zM688 445h3v4h-3zM763 445h3v4h-3zM785 445h3v4h-3zM680 449h3v3h-3zM688 449h3v3h-3zM760 449h3v3h-3zM788 449h3v3h-3zM860 449h3v3h-3zM874 449h3v3h-3zM683 452h8v4h-8zM741 452h3v4h-3zM758 452h5v4h-5zM797 452h2v4h-2zM855 452h3v4h-3zM680 456h3v4h-3zM688 456h3v4h-3zM702 456h3v4h-3zM755 456h3v4h-3zM844 456h2v4h-2zM691 460h3v4h-3zM705 460h6v4h-6zM716 460h8v4h-8zM752 460h3v4h-3zM791 460h3v4h-3zM799 460h3v4h-3zM846 460h3v4h-3zM852 460h3v4h-3zM694 464h3v4h-3zM755 464h3v4h-3zM791 464h3v4h-3zM846 464h3v4h-3zM755 468h3v4h-3zM791 468h3v4h-3zM802 468h3v4h-3zM846 468h3v4h-3zM852 468h3v4h-3zM697 472h2v4h-2zM791 472h3v4h-3zM802 472h3v4h-3zM846 472h3v4h-3zM852 472h3v4h-3zM758 476h2v3h-2zM844 476h2v3h-2zM855 476h3v3h-3zM758 479h2v4h-2zM805 479h3v4h-3zM841 479h3v4h-3zM874 479h3v4h-3zM699 483h3v4h-3zM760 483h3v4h-3zM808 483h2v4h-2zM838 483h3v4h-3zM866 483h8v4h-8zM763 487h3v4h-3zM785 487h3v4h-3zM810 487h6v4h-6zM863 487h3v4h-3zM766 491h3v4h-3zM783 491h2v4h-2zM819 491h5v4h-5zM830 491h3v4h-3zM769 495h3v3h-3zM780 495h3v3h-3zM799 495h11v3h-11zM822 495h8v3h-8zM699 498h3v4h-3zM797 498h2v4h-2zM810 498h3v4h-3zM819 498h3v4h-3zM830 498h3v4h-3zM694 502h3v4h-3zM788 502h6v4h-6zM691 506h3v4h-3zM766 506h8v4h-8zM777 506h6v4h-6zM835 506h3v4h-3zM683 510h16v4h-16zM760 510h3v4h-3zM680 514h3v4h-3zM705 514h6v4h-6zM727 514h3v4h-3zM735 514h3v4h-3zM758 514h2v4h-2zM869 514h5v4h-5zM713 518h3v4h-3zM844 518h2v4h-2zM716 522h3v3h-3zM724 522h3v3h-3zM738 522h3v3h-3zM758 522h2v3h-2zM849 522h3v3h-3zM719 525h3v4h-3zM724 525h3v4h-3zM855 525h8v4h-8zM722 529h5v4h-5zM858 529h5v4h-5zM722 533h5v4h-5zM855 533h3v4h-3zM724 537h3v4h-3zM852 537h3v4h-3zM724 541h3v3h-3zM738 541h3v3h-3zM758 541h2v3h-2zM722 544h5v4h-5zM738 544h3v4h-3zM849 544h3v4h-3zM722 548h8v4h-8zM849 548h3v4h-3zM719 552h5v4h-5zM735 552h3v4h-3zM758 552h2v4h-2zM780 552h5v4h-5zM846 552h3v4h-3z"/>
<path fill="#38e200" d="M805 326h5v4h-5zM813 326h6v4h-6zM730 330h3v4h-3zM749 330h3v4h-3zM810 330h6v4h-6zM813 334h6v4h-6zM744 338h3v3h-3zM816 338h3v3h-3zM869 341h2v4h-2zM733 345h5v4h-5zM686 349h2v4h-2zM733 349h2v4h-2zM694 357h3v3h-3zM733 357h2v3h-2zM733 360h2v4h-2zM816 360h3v4h-3zM874 360h3v4h-3zM735 364h3v4h-3zM808 364h2v4h-2zM871 364h3v4h-3zM730 368h3v4h-3zM738 368h6v4h-6zM819 368h3v4h-3zM869 368h2v4h-2zM691 372h3v4h-3zM741 372h8v4h-8zM755 372h3v4h-3zM805 372h3v4h-3zM866 372h3v4h-3zM688 376h3v4h-3zM719 376h11v4h-11zM741 376h3v4h-3zM755 376h5v4h-5zM808 376h2v4h-2zM860 376h3v4h-3zM680 380h6v4h-6zM691 380h3v4h-3zM719 380h3v4h-3zM735 380h3v4h-3zM763 380h14v4h-14zM822 380h2v4h-2zM858 380h2v4h-2zM699 384h3v3h-3zM719 384h8v3h-8zM733 384h2v3h-2zM813 384h3v3h-3zM822 384h2v3h-2zM855 384h3v3h-3zM705 387h28v4h-28zM766 387h3v4h-3zM772 387h2v4h-2zM824 387h3v4h-3zM686 391h2v4h-2zM716 391h6v4h-6zM727 391h6v4h-6zM772 391h2v4h-2zM816 391h3v4h-3zM824 391h6v4h-6zM713 395h6v4h-6zM730 395h3v4h-3zM772 395h2v4h-2zM816 395h3v4h-3zM827 395h8v4h-8zM860 395h3v4h-3zM711 399h2v4h-2zM766 399h3v4h-3zM772 399h2v4h-2zM833 399h13v4h-13zM863 399h3v4h-3zM708 403h3v3h-3zM766 403h3v3h-3zM774 403h3v3h-3zM816 403h17v3h-17zM869 403h2v3h-2zM763 406h3v4h-3zM774 406h3v4h-3zM835 406h3v4h-3zM874 406h3v4h-3zM688 410h3v4h-3zM705 410h3v4h-3zM760 410h6v4h-6zM838 410h3v4h-3zM688 414h3v4h-3zM841 414h5v4h-5zM744 418h3v4h-3zM844 418h2v4h-2zM702 422h3v4h-3zM744 422h3v4h-3zM780 422h8v4h-8zM844 422h2v4h-2zM744 426h3v4h-3zM774 426h3v4h-3zM791 426h8v4h-8zM844 426h2v4h-2zM855 426h3v4h-3zM744 430h3v3h-3zM799 430h3v3h-3zM844 430h2v3h-2zM863 430h3v3h-3zM874 430h3v3h-3zM699 433h3v4h-3zM772 433h8v4h-8zM802 433h3v4h-3zM841 433h3v4h-3zM699 437h3v4h-3zM766 437h3v4h-3zM780 437h5v4h-5zM805 437h3v4h-3zM841 437h3v4h-3zM699 441h3v4h-3zM763 441h3v4h-3zM785 441h3v4h-3zM794 441h3v4h-3zM844 441h2v4h-2zM699 445h3v4h-3zM744 445h3v4h-3zM760 445h3v4h-3zM788 445h9v4h-9zM844 445h2v4h-2zM863 445h11v4h-11zM699 449h3v3h-3zM744 449h3v3h-3zM758 449h2v3h-2zM791 449h6v3h-6zM844 449h2v3h-2zM858 449h2v3h-2zM680 452h3v4h-3zM691 452h3v4h-3zM699 452h3v4h-3zM744 452h3v4h-3zM755 452h3v4h-3zM791 452h6v4h-6zM844 452h2v4h-2zM691 456h3v4h-3zM741 456h3v4h-3zM752 456h3v4h-3zM791 456h3v4h-3zM797 456h2v4h-2zM852 456h3v4h-3zM694 460h3v4h-3zM702 460h3v4h-3zM724 460h20v4h-20zM797 460h2v4h-2zM849 460h3v4h-3zM697 464h2v4h-2zM705 464h11v4h-11zM752 464h3v4h-3zM799 464h3v4h-3zM849 464h3v4h-3zM697 468h2v4h-2zM799 468h3v4h-3zM849 468h3v4h-3zM755 472h3v4h-3zM699 476h3v3h-3zM755 476h3v3h-3zM791 476h3v3h-3zM846 476h3v3h-3zM699 479h3v4h-3zM858 479h2v4h-2zM758 483h2v4h-2zM788 483h3v4h-3zM805 483h3v4h-3zM863 483h3v4h-3zM874 483h3v4h-3zM702 487h3v4h-3zM760 487h3v4h-3zM808 487h2v4h-2zM835 487h3v4h-3zM702 491h3v4h-3zM763 491h3v4h-3zM802 491h8v4h-8zM816 491h3v4h-3zM833 491h2v4h-2zM702 495h3v3h-3zM766 495h3v3h-3zM797 495h2v3h-2zM810 495h3v3h-3zM819 495h3v3h-3zM830 495h3v3h-3zM769 498h14v4h-14zM794 498h3v4h-3zM813 498h6v4h-6zM833 498h2v4h-2zM697 502h2v4h-2zM774 502h14v4h-14zM694 506h3v4h-3zM763 506h3v4h-3zM774 506h3v4h-3zM680 510h3v4h-3zM699 510h9v4h-9zM730 510h5v4h-5zM758 510h2v4h-2zM838 510h3v4h-3zM863 510h3v4h-3zM711 514h5v4h-5zM755 514h3v4h-3zM841 514h3v4h-3zM866 514h3v4h-3zM874 514h3v4h-3zM716 518h3v4h-3zM738 518h3v4h-3zM755 518h3v4h-3zM860 518h6v4h-6zM719 522h3v3h-3zM852 522h14v3h-14zM722 525h2v4h-2zM758 525h2v4h-2zM863 525h3v4h-3zM863 529h3v4h-3zM858 533h5v4h-5zM758 537h2v4h-2zM855 537h3v4h-3zM852 541h3v3h-3zM755 544h3v4h-3zM852 544h3v4h-3zM738 548h3v4h-3zM755 548h3v4h-3zM852 548h3v4h-3zM724 552h6v4h-6zM738 552h3v4h-3zM755 552h3v4h-3zM849 552h3v4h-3z"/>
<path fill="#c0f800" d="M830 326h3v4h-3zM844 330h2v4h-2zM719 334h3v4h-3zM763 334h6v4h-6zM780 334h3v4h-3zM791 334h11v4h-11zM846 334h3v4h-3zM727 338h3v3h-3zM755 338h8v3h-8zM783 338h5v3h-5zM802 338h3v3h-3zM683 341h3v4h-3zM752 341h3v4h-3zM849 341h3v4h-3zM686 345h2v4h-2zM805 345h3v4h-3zM858 345h8v4h-8zM747 349h2v4h-2zM805 349h3v4h-3zM830 349h3v4h-3zM855 349h3v4h-3zM866 349h3v4h-3zM747 353h2v4h-2zM805 353h3v4h-3zM830 353h3v4h-3zM852 353h3v4h-3zM866 353h3v4h-3zM749 357h3v3h-3zM802 357h3v3h-3zM827 357h3v3h-3zM852 357h6v3h-6zM866 357h3v3h-3zM727 360h3v4h-3zM799 360h3v4h-3zM827 360h3v4h-3zM855 360h3v4h-3zM724 364h3v4h-3zM766 364h3v4h-3zM791 364h6v4h-6zM849 364h3v4h-3zM858 364h5v4h-5zM699 368h9v4h-9zM769 368h19v4h-19zM849 368h3v4h-3zM697 372h5v4h-5zM846 372h3v4h-3zM788 376h11v4h-11zM827 376h3v4h-3zM844 376h5v4h-5zM785 380h3v4h-3zM833 380h2v4h-2zM838 380h6v4h-6zM744 384h11v3h-11zM783 384h2v3h-2zM802 384h3v3h-3zM741 387h3v4h-3zM758 387h2v4h-2zM783 387h2v4h-2zM805 387h3v4h-3zM738 391h3v4h-3zM783 391h2v4h-2zM805 391h3v4h-3zM738 395h3v4h-3zM805 395h3v4h-3zM849 395h3v4h-3zM680 399h6v4h-6zM758 399h2v4h-2zM805 399h3v4h-3zM741 403h3v3h-3zM755 403h3v3h-3zM849 403h3v3h-3zM747 406h5v4h-5zM785 406h3v4h-3zM802 406h3v4h-3zM852 406h3v4h-3zM686 410h2v4h-2zM749 410h6v4h-6zM788 410h14v4h-14zM858 410h2v4h-2zM686 414h2v4h-2zM716 414h6v4h-6zM749 414h3v4h-3zM813 414h6v4h-6zM824 414h6v4h-6zM871 414h3v4h-3zM686 418h2v4h-2zM713 418h3v4h-3zM810 418h3v4h-3zM830 418h3v4h-3zM708 422h5v4h-5zM730 422h5v4h-5zM808 422h2v4h-2zM833 422h2v4h-2zM860 422h3v4h-3zM871 422h3v4h-3zM733 426h5v4h-5zM810 426h3v4h-3zM830 426h3v4h-3zM680 430h3v3h-3zM735 430h3v3h-3zM813 430h3v3h-3zM827 430h3v3h-3zM680 433h3v4h-3zM708 433h3v4h-3zM735 433h3v4h-3zM816 433h11v4h-11zM708 437h3v4h-3zM735 437h3v4h-3zM683 441h3v4h-3zM708 441h3v4h-3zM735 441h3v4h-3zM819 441h8v4h-8zM708 445h3v4h-3zM733 445h2v4h-2zM813 445h6v4h-6zM827 445h3v4h-3zM708 449h27v3h-27zM774 449h6v3h-6zM808 449h5v3h-5zM833 449h5v3h-5zM772 452h2v4h-2zM805 452h5v4h-5zM835 452h3v4h-3zM769 456h3v4h-3zM783 456h2v4h-2zM808 456h2v4h-2zM860 456h6v4h-6zM871 456h3v4h-3zM763 460h3v4h-3zM810 460h3v4h-3zM838 460h3v4h-3zM874 460h3v4h-3zM785 464h3v4h-3zM838 464h3v4h-3zM858 464h2v4h-2zM680 468h3v4h-3zM688 468h3v4h-3zM874 468h3v4h-3zM691 472h3v4h-3zM785 472h3v4h-3zM813 472h3v4h-3zM835 472h3v4h-3zM860 472h6v4h-6zM871 472h3v4h-3zM763 476h3v3h-3zM813 476h3v3h-3zM833 476h2v3h-2zM766 479h3v4h-3zM772 479h11v4h-11zM816 479h8v4h-8zM827 479h6v4h-6zM866 491h3v4h-3zM874 491h3v4h-3zM691 495h3v3h-3zM680 498h3v4h-3zM688 498h3v4h-3zM802 502h3v4h-3zM808 506h2v4h-2zM819 506h3v4h-3zM830 506h3v4h-3zM869 506h5v4h-5zM797 510h2v4h-2zM833 510h2v4h-2zM791 514h6v4h-6zM766 518h8v4h-8zM785 518h3v4h-3zM816 518h6v4h-6zM835 518h3v4h-3zM688 522h14v3h-14zM763 522h3v3h-3zM774 522h3v3h-3zM780 522h3v3h-3zM816 522h3v3h-3zM838 522h3v3h-3zM683 525h3v4h-3zM702 525h6v4h-6zM730 525h3v4h-3zM763 525h3v4h-3zM705 529h3v4h-3zM730 529h5v4h-5zM763 529h3v4h-3zM841 529h3v4h-3zM705 533h3v4h-3zM730 533h5v4h-5zM841 533h3v4h-3zM708 537h3v4h-3zM730 537h5v4h-5zM780 537h3v4h-3zM841 537h3v4h-3zM711 541h2v3h-2zM785 541h9v3h-9zM838 541h3v3h-3zM711 544h2v4h-2zM777 544h3v4h-3zM794 544h11v4h-11zM833 544h5v4h-5zM708 548h3v4h-3zM763 548h3v4h-3zM774 548h3v4h-3zM805 548h25v4h-25zM705 552h3v4h-3z"/>
<path fill="#ccf600" d="M833 326h2v4h-2zM838 326h3v4h-3zM827 330h3v4h-3zM722 334h5v4h-5zM769 334h11v4h-11zM844 334h2v4h-2zM719 338h3v3h-3zM763 338h3v3h-3zM780 338h3v3h-3zM844 338h5v3h-5zM727 341h3v4h-3zM846 341h3v4h-3zM727 345h3v4h-3zM749 345h3v4h-3zM827 345h3v4h-3zM849 345h3v4h-3zM727 349h3v4h-3zM849 349h3v4h-3zM858 349h8v4h-8zM727 353h3v4h-3zM802 353h3v4h-3zM833 353h2v4h-2zM849 353h3v4h-3zM855 353h11v4h-11zM727 357h3v3h-3zM799 357h3v3h-3zM830 357h3v3h-3zM849 357h3v3h-3zM858 357h8v3h-8zM724 360h3v4h-3zM755 360h3v4h-3zM794 360h5v4h-5zM849 360h3v4h-3zM858 360h8v4h-8zM769 364h3v4h-3zM785 364h6v4h-6zM846 364h3v4h-3zM846 368h3v4h-3zM844 372h2v4h-2zM841 376h3v4h-3zM788 380h14v4h-14zM835 380h3v4h-3zM785 384h3v3h-3zM799 384h3v3h-3zM744 387h3v4h-3zM755 387h3v4h-3zM785 387h3v4h-3zM802 387h3v4h-3zM741 391h3v4h-3zM758 391h2v4h-2zM785 391h3v4h-3zM758 395h2v4h-2zM785 395h3v4h-3zM852 395h6v4h-6zM741 399h3v4h-3zM755 399h3v4h-3zM785 399h3v4h-3zM802 399h3v4h-3zM849 399h3v4h-3zM680 403h6v3h-6zM744 403h11v3h-11zM785 403h3v3h-3zM802 403h3v3h-3zM855 403h3v3h-3zM680 406h6v4h-6zM788 406h6v4h-6zM797 406h5v4h-5zM680 410h6v4h-6zM860 410h9v4h-9zM683 414h3v4h-3zM752 414h3v4h-3zM819 414h5v4h-5zM858 414h2v4h-2zM869 414h2v4h-2zM680 418h6v4h-6zM716 418h3v4h-3zM722 418h2v4h-2zM813 418h17v4h-17zM858 418h2v4h-2zM869 418h5v4h-5zM680 422h6v4h-6zM713 422h3v4h-3zM810 422h6v4h-6zM827 422h6v4h-6zM863 422h8v4h-8zM680 426h6v4h-6zM708 426h5v4h-5zM727 426h6v4h-6zM813 426h6v4h-6zM824 426h6v4h-6zM683 430h3v3h-3zM708 430h5v3h-5zM730 430h5v3h-5zM816 430h11v3h-11zM683 433h3v4h-3zM711 433h2v4h-2zM733 433h2v4h-2zM683 437h3v4h-3zM711 437h5v4h-5zM733 437h2v4h-2zM711 441h5v4h-5zM733 441h2v4h-2zM711 445h22v4h-22zM819 445h8v4h-8zM813 449h6v3h-6zM827 449h6v3h-6zM774 452h9v4h-9zM810 452h6v4h-6zM833 452h2v4h-2zM772 456h2v4h-2zM810 456h3v4h-3zM835 456h3v4h-3zM866 456h5v4h-5zM766 460h3v4h-3zM783 460h2v4h-2zM813 460h3v4h-3zM835 460h3v4h-3zM860 460h6v4h-6zM869 460h5v4h-5zM763 464h3v4h-3zM813 464h3v4h-3zM835 464h3v4h-3zM860 464h3v4h-3zM871 464h6v4h-6zM683 468h5v4h-5zM785 468h3v4h-3zM813 468h3v4h-3zM835 468h3v4h-3zM860 468h6v4h-6zM869 468h5v4h-5zM680 472h3v4h-3zM688 472h3v4h-3zM763 472h3v4h-3zM816 472h3v4h-3zM866 472h5v4h-5zM691 476h3v3h-3zM766 476h3v3h-3zM783 476h2v3h-2zM816 476h11v3h-11zM830 476h3v3h-3zM691 479h3v4h-3zM769 479h3v4h-3zM824 479h3v4h-3zM691 483h3v4h-3zM691 487h3v4h-3zM680 491h3v4h-3zM691 491h3v4h-3zM869 491h5v4h-5zM680 495h3v3h-3zM688 495h3v3h-3zM866 495h11v3h-11zM683 498h5v4h-5zM866 498h3v4h-3zM874 498h3v4h-3zM866 502h11v4h-11zM799 506h3v4h-3zM822 506h8v4h-8zM808 510h11v4h-11zM797 514h2v4h-2zM813 514h9v4h-9zM833 514h2v4h-2zM788 518h9v4h-9zM813 518h3v4h-3zM822 518h2v4h-2zM833 518h2v4h-2zM766 522h8v3h-8zM783 522h5v3h-5zM813 522h3v3h-3zM835 522h3v3h-3zM686 525h16v4h-16zM766 525h3v4h-3zM774 525h9v4h-9zM813 525h3v4h-3zM838 525h3v4h-3zM680 529h6v4h-6zM702 529h3v4h-3zM780 529h3v4h-3zM680 533h3v4h-3zM702 533h3v4h-3zM763 533h3v4h-3zM780 533h3v4h-3zM680 537h3v4h-3zM705 537h3v4h-3zM783 537h11v4h-11zM838 537h3v4h-3zM705 541h6v3h-6zM777 541h3v3h-3zM794 541h14v3h-14zM827 541h6v3h-6zM835 541h3v3h-3zM705 544h6v4h-6zM805 544h28v4h-28zM705 548h3v4h-3zM772 548h2v4h-2z"/>
<path fill="#d8f400" d="M835 326h3v4h-3zM841 330h3v4h-3zM722 338h5v3h-5zM766 338h3v3h-3zM777 338h3v3h-3zM788 338h14v3h-14zM722 341h5v4h-5zM755 341h3v4h-3zM802 341h3v4h-3zM844 341h2v4h-2zM722 345h5v4h-5zM802 345h3v4h-3zM844 345h5v4h-5zM724 349h3v4h-3zM749 349h3v4h-3zM802 349h3v4h-3zM833 349h2v4h-2zM838 349h11v4h-11zM724 353h3v4h-3zM749 353h3v4h-3zM799 353h3v4h-3zM835 353h14v4h-14zM724 357h3v3h-3zM752 357h3v3h-3zM794 357h5v3h-5zM833 357h16v3h-16zM758 360h5v4h-5zM785 360h9v4h-9zM841 360h8v4h-8zM772 364h13v4h-13zM844 364h2v4h-2zM844 368h2v4h-2zM788 384h11v3h-11zM752 387h3v4h-3zM788 387h3v4h-3zM797 387h5v4h-5zM755 391h3v4h-3zM788 391h3v4h-3zM799 391h6v4h-6zM741 395h3v4h-3zM755 395h3v4h-3zM788 395h3v4h-3zM799 395h6v4h-6zM744 399h11v4h-11zM788 399h3v4h-3zM799 399h3v4h-3zM852 399h6v4h-6zM788 403h14v3h-14zM852 403h3v3h-3zM794 406h3v4h-3zM680 414h3v4h-3zM860 414h9v4h-9zM860 418h9v4h-9zM724 422h3v4h-3zM816 422h11v4h-11zM819 426h5v4h-5zM727 430h3v3h-3zM713 433h3v4h-3zM727 433h6v4h-6zM716 437h3v4h-3zM724 437h9v4h-9zM716 441h17v4h-17zM819 449h8v3h-8zM816 452h17v4h-17zM774 456h3v4h-3zM780 456h3v4h-3zM813 456h22v4h-22zM769 460h3v4h-3zM816 460h8v4h-8zM833 460h2v4h-2zM866 460h3v4h-3zM783 464h2v4h-2zM816 464h8v4h-8zM863 464h8v4h-8zM763 468h3v4h-3zM816 468h8v4h-8zM866 468h3v4h-3zM683 472h5v4h-5zM783 472h2v4h-2zM819 472h5v4h-5zM833 472h2v4h-2zM680 476h11v3h-11zM769 476h14v3h-14zM827 476h3v3h-3zM680 479h3v4h-3zM688 479h3v4h-3zM688 483h3v4h-3zM688 487h3v4h-3zM688 491h3v4h-3zM683 495h5v3h-5zM869 498h5v4h-5zM802 506h6v4h-6zM799 510h3v4h-3zM819 510h3v4h-3zM830 510h3v4h-3zM799 514h3v4h-3zM808 514h5v4h-5zM822 514h2v4h-2zM830 514h3v4h-3zM797 518h5v4h-5zM805 518h8v4h-8zM824 518h9v4h-9zM788 522h25v3h-25zM819 522h3v3h-3zM833 522h2v3h-2zM769 525h5v4h-5zM783 525h2v4h-2zM791 525h22v4h-22zM816 525h3v4h-3zM686 529h16v4h-16zM766 529h6v4h-6zM774 529h6v4h-6zM794 529h22v4h-22zM838 529h3v4h-3zM683 533h19v4h-19zM777 533h3v4h-3zM783 533h2v4h-2zM791 533h25v4h-25zM838 533h3v4h-3zM697 537h8v4h-8zM763 537h3v4h-3zM777 537h3v4h-3zM794 537h28v4h-28zM830 537h8v4h-8zM702 541h3v3h-3zM763 541h3v3h-3zM808 541h19v3h-19zM833 541h2v3h-2zM763 544h3v4h-3zM774 544h3v4h-3zM766 548h6v4h-6z"/>
<path fill="#acf500" d="M841 326h5v4h-5zM722 330h5v4h-5zM766 330h14v4h-14zM846 330h3v4h-3zM727 334h3v4h-3zM755 334h8v4h-8zM783 334h2v4h-2zM788 334h3v4h-3zM752 338h3v3h-3zM824 338h3v3h-3zM849 338h3v3h-3zM749 341h3v4h-3zM805 341h3v4h-3zM683 345h3v4h-3zM747 345h2v4h-2zM808 345h2v4h-2zM852 345h6v4h-6zM866 345h3v4h-3zM808 349h2v4h-2zM852 349h3v4h-3zM869 349h5v4h-5zM869 353h5v4h-5zM747 357h2v3h-2zM805 357h3v3h-3zM869 357h2v3h-2zM749 360h6v4h-6zM802 360h3v4h-3zM824 360h3v4h-3zM852 360h3v4h-3zM866 360h3v4h-3zM699 364h3v4h-3zM763 364h3v4h-3zM797 364h2v4h-2zM852 364h3v4h-3zM863 364h3v4h-3zM722 368h2v4h-2zM766 368h3v4h-3zM788 368h6v4h-6zM824 368h3v4h-3zM852 368h3v4h-3zM860 368h3v4h-3zM702 372h9v4h-9zM791 372h6v4h-6zM849 372h3v4h-3zM785 376h3v4h-3zM799 376h3v4h-3zM783 380h2v4h-2zM802 380h3v4h-3zM830 380h3v4h-3zM844 380h2v4h-2zM741 384h3v3h-3zM755 384h3v3h-3zM805 384h3v3h-3zM838 384h3v3h-3zM738 387h3v4h-3zM780 387h3v4h-3zM760 391h3v4h-3zM808 391h2v4h-2zM852 391h3v4h-3zM680 395h6v4h-6zM760 395h3v4h-3zM783 395h2v4h-2zM808 395h2v4h-2zM738 399h3v4h-3zM760 399h3v4h-3zM783 399h2v4h-2zM858 399h2v4h-2zM758 403h2v3h-2zM783 403h2v3h-2zM805 403h3v3h-3zM858 403h2v3h-2zM686 406h2v4h-2zM744 406h3v4h-3zM752 406h3v4h-3zM783 406h2v4h-2zM805 406h3v4h-3zM855 406h3v4h-3zM860 406h3v4h-3zM716 410h8v4h-8zM747 410h2v4h-2zM755 410h3v4h-3zM785 410h3v4h-3zM802 410h3v4h-3zM816 410h11v4h-11zM869 410h2v4h-2zM713 414h3v4h-3zM722 414h2v4h-2zM747 414h2v4h-2zM755 414h3v4h-3zM791 414h8v4h-8zM810 414h3v4h-3zM830 414h3v4h-3zM855 414h3v4h-3zM711 418h2v4h-2zM724 418h3v4h-3zM733 418h2v4h-2zM808 418h2v4h-2zM833 418h2v4h-2zM855 418h3v4h-3zM686 422h2v4h-2zM727 422h3v4h-3zM735 422h3v4h-3zM835 422h3v4h-3zM858 422h2v4h-2zM686 426h2v4h-2zM808 426h2v4h-2zM833 426h5v4h-5zM866 426h3v4h-3zM686 430h2v3h-2zM810 430h3v3h-3zM830 430h3v3h-3zM686 433h2v4h-2zM813 433h3v4h-3zM680 437h3v4h-3zM686 437h2v4h-2zM686 441h2v4h-2zM816 441h3v4h-3zM705 445h3v4h-3zM735 445h3v4h-3zM810 445h3v4h-3zM830 445h8v4h-8zM705 449h3v3h-3zM735 449h3v3h-3zM772 449h2v3h-2zM780 449h3v3h-3zM802 449h6v3h-6zM708 452h25v4h-25zM769 452h3v4h-3zM783 452h2v4h-2zM802 452h3v4h-3zM838 452h3v4h-3zM863 452h8v4h-8zM766 456h3v4h-3zM805 456h3v4h-3zM838 456h3v4h-3zM874 456h3v4h-3zM785 460h3v4h-3zM808 460h2v4h-2zM858 460h2v4h-2zM683 464h5v4h-5zM760 464h3v4h-3zM810 464h3v4h-3zM691 468h3v4h-3zM760 468h3v4h-3zM810 468h3v4h-3zM838 468h3v4h-3zM858 468h2v4h-2zM810 472h3v4h-3zM838 472h3v4h-3zM874 472h3v4h-3zM785 476h3v3h-3zM835 476h3v3h-3zM863 476h11v3h-11zM694 479h3v4h-3zM783 479h2v4h-2zM813 479h3v4h-3zM833 479h2v4h-2zM694 483h3v4h-3zM766 483h17v4h-17zM819 483h11v4h-11zM694 487h3v4h-3zM774 487h6v4h-6zM694 491h3v4h-3zM691 498h3v4h-3zM683 502h5v4h-5zM799 502h3v4h-3zM805 502h3v4h-3zM797 506h2v4h-2zM810 506h9v4h-9zM866 506h3v4h-3zM874 506h3v4h-3zM791 510h6v4h-6zM785 514h6v4h-6zM835 514h3v4h-3zM763 518h3v4h-3zM774 518h3v4h-3zM780 518h5v4h-5zM683 522h5v3h-5zM702 522h6v3h-6zM730 522h5v3h-5zM777 522h3v3h-3zM680 525h3v4h-3zM708 525h3v4h-3zM727 525h3v4h-3zM733 525h5v4h-5zM841 525h3v4h-3zM708 529h3v4h-3zM727 529h3v4h-3zM735 529h3v4h-3zM844 529h2v4h-2zM708 533h3v4h-3zM727 533h3v4h-3zM735 533h3v4h-3zM844 533h2v4h-2zM711 537h2v4h-2zM735 537h3v4h-3zM844 537h2v4h-2zM713 541h3v3h-3zM730 541h5v3h-5zM760 541h3v3h-3zM780 541h5v3h-5zM841 541h3v3h-3zM713 544h3v4h-3zM760 544h3v4h-3zM788 544h6v4h-6zM838 544h3v4h-3zM711 548h2v4h-2zM794 548h11v4h-11zM830 548h8v4h-8zM708 552h3v4h-3zM766 552h8v4h-8zM805 552h22v4h-22z"/>
<path fill="#00cc18" d="M855 326h3v4h-3zM855 334h3v4h-3zM869 338h8v3h-8zM688 372h3v4h-3zM813 372h3v4h-3zM699 391h3v4h-3zM702 399h3v4h-3zM702 403h3v3h-3zM702 406h3v4h-3zM855 433h8v4h-8zM858 437h5v4h-5zM730 468h3v4h-3zM738 472h3v4h-3zM741 479h3v4h-3zM849 483h6v4h-6zM744 487h3v4h-3zM855 487h3v4h-3zM713 491h3v4h-3zM744 491h3v4h-3zM713 495h3v3h-3zM744 495h3v3h-3zM838 495h3v3h-3zM858 495h2v3h-2zM744 498h3v4h-3zM858 498h2v4h-2zM730 502h8v4h-8zM744 502h3v4h-3zM716 506h3v4h-3zM738 506h6v4h-6zM844 506h2v4h-2zM858 506h2v4h-2zM719 510h5v4h-5zM741 510h3v4h-3zM846 510h3v4h-3zM855 510h3v4h-3zM747 525h2v4h-2zM744 529h3v4h-3zM744 533h3v4h-3zM749 541h6v3h-6z"/>
<path fill="#00c42a" d="M860 326h3v4h-3zM735 330h3v4h-3zM741 330h3v4h-3zM858 330h2v4h-2zM738 334h3v4h-3zM858 334h11v4h-11zM874 334h3v4h-3zM694 360h3v4h-3zM680 372h3v4h-3zM694 391h3v4h-3zM691 395h3v4h-3zM699 395h3v4h-3zM691 414h3v4h-3zM722 472h11v4h-11zM735 476h3v3h-3zM713 479h3v4h-3zM738 479h3v4h-3zM713 483h3v4h-3zM846 487h6v4h-6zM716 491h3v4h-3zM741 491h3v4h-3zM855 491h3v4h-3zM716 495h3v3h-3zM741 495h3v3h-3zM841 495h3v3h-3zM855 495h3v3h-3zM716 498h3v4h-3zM730 498h8v4h-8zM741 498h3v4h-3zM841 498h3v4h-3zM716 502h3v4h-3zM727 502h3v4h-3zM844 502h5v4h-5zM855 502h3v4h-3zM719 506h5v4h-5zM849 506h9v4h-9zM747 529h2v4h-2zM752 529h3v4h-3zM747 533h2v4h-2zM752 533h3v4h-3zM749 537h3v4h-3z"/>
<path fill="#fbd200" d="M683 330h3v4h-3zM830 334h3v4h-3zM838 334h3v4h-3zM830 338h3v3h-3zM686 341h2v4h-2zM769 341h8v4h-8zM830 341h3v4h-3zM838 341h3v4h-3zM783 345h2v4h-2zM788 345h3v4h-3zM835 345h3v4h-3zM758 349h2v4h-2zM763 349h3v4h-3zM785 349h6v4h-6zM794 349h3v4h-3zM763 353h3v4h-3zM785 353h9v4h-9zM780 357h3v3h-3zM722 360h2v4h-2zM838 364h3v4h-3zM830 368h3v4h-3zM838 372h3v4h-3zM719 422h3v4h-3zM716 426h3v4h-3zM722 426h2v4h-2zM716 430h3v3h-3zM719 433h5v4h-5zM697 541h2v3h-2zM699 544h3v4h-3zM699 552h3v4h-3z"/>
<path fill="#f87800" d="M686 330h2v4h-2zM686 334h2v4h-2zM719 349h3v4h-3zM719 360h3v4h-3zM708 364h3v4h-3z"/>
<path fill="#d02000" d="M688 330h3v4h-3zM688 334h3v4h-3zM694 349h3v4h-3zM705 360h3v4h-3z"/>
<path fill="#f06000" d="M716 330h3v4h-3zM688 341h3v4h-3zM719 353h3v4h-3zM719 357h3v3h-3zM702 360h3v4h-3zM711 364h5v4h-5z"/>
<path fill="#f0f000" d="M830 330h3v4h-3zM841 334h3v4h-3zM827 338h3v3h-3zM763 341h3v4h-3zM785 341h3v4h-3zM799 345h3v4h-3zM830 345h3v4h-3zM752 353h3v4h-3zM755 357h3v3h-3zM788 357h6v3h-6zM763 360h3v4h-3zM780 360h3v4h-3zM838 360h3v4h-3zM722 364h2v4h-2zM841 364h3v4h-3zM827 368h3v4h-3zM841 372h3v4h-3zM830 376h3v4h-3zM838 376h3v4h-3zM749 387h3v4h-3zM744 391h3v4h-3zM791 391h3v4h-3zM797 391h2v4h-2zM752 395h3v4h-3zM797 395h2v4h-2zM791 399h8v4h-8zM719 437h5v4h-5zM827 460h6v4h-6zM769 464h3v4h-3zM824 464h3v4h-3zM766 468h3v4h-3zM824 468h3v4h-3zM769 472h5v4h-5zM780 472h3v4h-3zM827 472h6v4h-6zM683 479h5v4h-5zM686 487h2v4h-2zM802 510h3v4h-3zM824 522h3v3h-3zM830 522h3v3h-3zM785 529h6v4h-6zM819 529h3v4h-3zM835 529h3v4h-3zM769 533h8v4h-8zM819 533h3v4h-3zM833 533h2v4h-2zM766 537h3v4h-3zM774 537h3v4h-3zM699 541h3v3h-3zM766 541h3v3h-3zM774 541h3v3h-3zM769 544h3v4h-3zM702 548h3v4h-3z"/>
<path fill="#f8dc00" d="M833 330h5v4h-5zM766 341h3v4h-3zM777 341h3v4h-3zM791 341h3v4h-3zM763 345h3v4h-3zM785 345h3v4h-3zM797 345h2v4h-2zM833 345h2v4h-2zM838 345h3v4h-3zM755 349h3v4h-3zM760 349h3v4h-3zM755 353h8v4h-8zM794 353h3v4h-3zM763 357h3v3h-3zM783 357h2v3h-2zM769 360h8v4h-8zM830 364h3v4h-3zM711 368h8v4h-8zM830 372h3v4h-3zM835 376h3v4h-3zM749 391h3v4h-3zM724 430h3v3h-3zM716 433h3v4h-3zM777 460h3v4h-3zM772 468h2v4h-2zM780 468h3v4h-3zM774 472h6v4h-6zM824 525h9v4h-9zM822 529h13v4h-13zM824 533h6v4h-6zM680 541h3v3h-3z"/>
<path fill="#f4e600" d="M838 330h3v4h-3zM680 334h6v4h-6zM841 338h3v3h-3zM780 341h3v4h-3zM788 341h3v4h-3zM794 341h3v4h-3zM841 341h3v4h-3zM755 345h8v4h-8zM722 349h2v4h-2zM752 349h3v4h-3zM797 349h2v4h-2zM758 357h5v3h-5zM785 357h3v3h-3zM766 360h3v4h-3zM777 360h3v4h-3zM833 360h5v4h-5zM702 364h3v4h-3zM841 368h3v4h-3zM833 376h2v4h-2zM747 391h2v4h-2zM752 391h3v4h-3zM794 391h3v4h-3zM747 395h5v4h-5zM791 395h6v4h-6zM716 422h3v4h-3zM722 422h2v4h-2zM724 426h3v4h-3zM724 433h3v4h-3zM774 460h3v4h-3zM772 464h2v4h-2zM780 464h3v4h-3zM827 464h6v4h-6zM769 468h3v4h-3zM827 468h6v4h-6zM683 483h5v4h-5zM683 487h3v4h-3zM827 522h3v3h-3zM822 525h2v4h-2zM833 525h2v4h-2zM822 533h2v4h-2zM830 533h3v4h-3zM686 537h8v4h-8zM769 537h5v4h-5zM769 541h5v3h-5z"/>
<path fill="#00bc3e" d="M863 330h11v4h-11zM688 353h3v4h-3zM683 372h3v4h-3zM694 399h5v4h-5zM699 403h3v3h-3zM699 406h3v4h-3zM699 410h3v4h-3zM719 476h5v3h-5zM727 479h8v4h-8zM735 483h3v4h-3zM719 491h3v4h-3zM735 491h6v4h-6zM719 495h3v3h-3zM730 495h3v3h-3zM849 495h3v3h-3zM722 498h5v4h-5zM722 502h2v4h-2z"/>
<path fill="#e4f200" d="M827 334h3v4h-3zM683 338h3v3h-3zM769 338h8v3h-8zM719 341h3v4h-3zM758 341h5v4h-5zM783 341h2v4h-2zM797 341h5v4h-5zM827 341h3v4h-3zM752 345h3v4h-3zM841 345h3v4h-3zM799 349h3v4h-3zM835 349h3v4h-3zM797 353h2v4h-2zM783 360h2v4h-2zM830 360h3v4h-3zM827 364h3v4h-3zM708 368h3v4h-3zM719 368h3v4h-3zM827 372h3v4h-3zM747 387h2v4h-2zM791 387h6v4h-6zM744 395h3v4h-3zM719 418h3v4h-3zM713 426h3v4h-3zM713 430h3v3h-3zM777 456h3v4h-3zM772 460h2v4h-2zM780 460h3v4h-3zM824 460h3v4h-3zM766 464h3v4h-3zM833 464h2v4h-2zM783 468h2v4h-2zM833 468h2v4h-2zM766 472h3v4h-3zM824 472h3v4h-3zM680 483h3v4h-3zM680 487h3v4h-3zM683 491h5v4h-5zM805 510h3v4h-3zM822 510h8v4h-8zM802 514h6v4h-6zM824 514h6v4h-6zM802 518h3v4h-3zM822 522h2v3h-2zM785 525h6v4h-6zM819 525h3v4h-3zM835 525h3v4h-3zM772 529h2v4h-2zM783 529h2v4h-2zM791 529h3v4h-3zM816 529h3v4h-3zM766 533h3v4h-3zM785 533h6v4h-6zM816 533h3v4h-3zM835 533h3v4h-3zM683 537h3v4h-3zM694 537h3v4h-3zM822 537h8v4h-8zM702 544h3v4h-3zM766 544h3v4h-3zM772 544h2v4h-2zM702 552h3v4h-3z"/>
<path fill="#ffc800" d="M833 334h5v4h-5zM833 338h8v3h-8zM833 341h5v4h-5zM766 345h3v4h-3zM780 345h3v4h-3zM791 345h6v4h-6zM783 349h2v4h-2zM791 349h3v4h-3zM694 353h3v4h-3zM722 353h2v4h-2zM783 353h2v4h-2zM697 357h2v3h-2zM722 357h2v3h-2zM766 357h3v3h-3zM774 357h6v3h-6zM699 360h3v4h-3zM833 364h5v4h-5zM833 368h8v4h-8zM833 372h5v4h-5zM719 426h3v4h-3zM719 430h5v3h-5zM774 464h3v4h-3zM699 548h3v4h-3z"/>
<path fill="#d83000" d="M688 338h3v3h-3zM691 345h3v4h-3zM716 360h3v4h-3z"/>
<path fill="#00ba5a" d="M680 353h3v4h-3zM691 357h3v3h-3zM694 410h5v4h-5zM719 479h5v4h-5zM719 483h5v4h-5z"/>
<path fill="#00bc6c" d="M683 353h5v4h-5z"/>
<path fill="#e04000" d="M697 353h2v4h-2z"/>
<path fill="#00c8f0" d="M680 357h3v3h-3zM686 368h2v4h-2z"/>
<path fill="#00acf8" d="M683 357h3v3h-3zM688 360h3v4h-3zM688 364h3v4h-3z"/>
<path fill="#00baf4" d="M686 357h2v3h-2zM683 368h3v4h-3z"/>
<path fill="#00c6d8" d="M688 357h3v3h-3zM680 368h3v4h-3z"/>
<path fill="#0090ff" d="M680 360h6v4h-6zM680 364h3v4h-3zM686 364h2v4h-2z"/>
<path fill="#009efb" d="M686 360h2v4h-2z"/>
<path fill="#00c2a8" d="M691 360h3v4h-3zM688 368h3v4h-3z"/>
<path fill="#007cff" d="M683 364h3v4h-3z"/>
<path fill="#00c090" d="M691 364h3v4h-3z"/>
<path fill="#ff9e00" d="M705 364h3v4h-3zM680 548h3v4h-3zM697 548h2v4h-2z"/>
<path fill="#00b848" d="M694 403h5v3h-5zM694 406h5v4h-5zM694 414h5v4h-5zM716 479h3v4h-3zM724 479h3v4h-3zM716 483h3v4h-3zM724 483h11v4h-11zM719 487h19v4h-19zM722 491h13v4h-13zM722 495h8v3h-8z"/>
</g>
<g shape-rendering="crispEdges">
<rect x="680" y="556" width="197" height="1" fill="#fff"/>
<rect x="679" y="325" width="199" height="1" fill="#000"/>
<rect x="679" y="557" width="199" height="1" fill="#000"/>
<rect x="679" y="325" width="1" height="233" fill="#000"/>
<rect x="877" y="325" width="1" height="233" fill="#000"/>
</g>
<circle cx="778.5" cy="441.5" r="5" fill="none" stroke="#000" stroke-width="1" shape-rendering="crispEdges"/>
<g filter="url(#thr2)"><g transform="translate(891.5 546.5) rotate(-90)">
<text x="-0.19" y="0" font-size="12.5" textLength="170.35" lengthAdjust="spacingAndGlyphs" fill="#000" >©IMOS 24-Jan-2017 20:42:56</text>
</g></g>
<g filter="url(#thr)">
<text x="51.97" y="27" font-size="15" textLength="507.64" lengthAdjust="spacingAndGlyphs" fill="#000" >Argo profile: AO 5902388_66 19-Jan-2017 20170119_541 44.3376S 157.3974E</text>
<text x="54.28" y="43" font-size="15" textLength="566.10" lengthAdjust="spacingAndGlyphs" fill="#000" >Climatology: CARS2009. Satellite-adjusted climatology: synTS_20170117.nc (2.3d earlier)</text>
<text x="20.28" y="56" font-size="13" textLength="7.23" lengthAdjust="spacingAndGlyphs" fill="#000" >0</text>
<text x="5.82" y="80" font-size="13" textLength="21.69" lengthAdjust="spacingAndGlyphs" fill="#000" >100</text>
<text x="5.82" y="104" font-size="13" textLength="21.69" lengthAdjust="spacingAndGlyphs" fill="#000" >200</text>
<text x="5.82" y="128" font-size="13" textLength="21.69" lengthAdjust="spacingAndGlyphs" fill="#000" >300</text>
<text x="5.82" y="152" font-size="13" textLength="21.69" lengthAdjust="spacingAndGlyphs" fill="#000" >400</text>
<text x="5.82" y="176" font-size="13" textLength="21.69" lengthAdjust="spacingAndGlyphs" fill="#000" >500</text>
<text x="5.82" y="200" font-size="13" textLength="21.69" lengthAdjust="spacingAndGlyphs" fill="#000" >600</text>
<text x="5.82" y="224" font-size="13" textLength="21.69" lengthAdjust="spacingAndGlyphs" fill="#000" >700</text>
<text x="5.82" y="248" font-size="13" textLength="21.69" lengthAdjust="spacingAndGlyphs" fill="#000" >800</text>
<text x="5.82" y="272" font-size="13" textLength="21.69" lengthAdjust="spacingAndGlyphs" fill="#000" >900</text>
<text x="-1.41" y="296" font-size="13" textLength="28.92" lengthAdjust="spacingAndGlyphs" fill="#000" >1000</text>
<text x="-1.41" y="320" font-size="13" textLength="28.92" lengthAdjust="spacingAndGlyphs" fill="#000" >1100</text>
<text x="-1.41" y="344" font-size="13" textLength="28.92" lengthAdjust="spacingAndGlyphs" fill="#000" >1200</text>
<text x="-1.41" y="368" font-size="13" textLength="28.92" lengthAdjust="spacingAndGlyphs" fill="#000" >1300</text>
<text x="-1.41" y="392" font-size="13" textLength="28.92" lengthAdjust="spacingAndGlyphs" fill="#000" >1400</text>
<text x="-1.41" y="416" font-size="13" textLength="28.92" lengthAdjust="spacingAndGlyphs" fill="#000" >1500</text>
<text x="-1.41" y="440" font-size="13" textLength="28.92" lengthAdjust="spacingAndGlyphs" fill="#000" >1600</text>
<text x="-1.41" y="464" font-size="13" textLength="28.92" lengthAdjust="spacingAndGlyphs" fill="#000" >1700</text>
<text x="-1.41" y="488" font-size="13" textLength="28.92" lengthAdjust="spacingAndGlyphs" fill="#000" >1800</text>
<text x="-1.41" y="512" font-size="13" textLength="28.92" lengthAdjust="spacingAndGlyphs" fill="#000" >1900</text>
<text x="-1.41" y="536" font-size="13" textLength="28.92" lengthAdjust="spacingAndGlyphs" fill="#000" >2000</text>
<text x="39.89" y="560" font-size="13" textLength="7.23" lengthAdjust="spacingAndGlyphs" fill="#000" >0</text>
<text x="69.25" y="560" font-size="13" textLength="7.23" lengthAdjust="spacingAndGlyphs" fill="#000" >5</text>
<text x="94.73" y="560" font-size="13" textLength="14.46" lengthAdjust="spacingAndGlyphs" fill="#000" >10</text>
<text x="124.10" y="560" font-size="13" textLength="14.46" lengthAdjust="spacingAndGlyphs" fill="#000" >15</text>
<text x="153.60" y="560" font-size="13" textLength="14.46" lengthAdjust="spacingAndGlyphs" fill="#000" >20</text>
<text x="182.97" y="560" font-size="13" textLength="14.46" lengthAdjust="spacingAndGlyphs" fill="#000" >25</text>
<text x="212.38" y="560" font-size="13" textLength="14.46" lengthAdjust="spacingAndGlyphs" fill="#000" >30</text>
<text x="250.21" y="560" font-size="13" textLength="14.46" lengthAdjust="spacingAndGlyphs" fill="#000" >34</text>
<text x="287.87" y="560" font-size="13" textLength="25.30" lengthAdjust="spacingAndGlyphs" fill="#000" >34.5</text>
<text x="337.30" y="560" font-size="13" textLength="14.46" lengthAdjust="spacingAndGlyphs" fill="#000" >35</text>
<text x="374.87" y="560" font-size="13" textLength="25.30" lengthAdjust="spacingAndGlyphs" fill="#000" >35.5</text>
<text x="424.31" y="560" font-size="13" textLength="14.46" lengthAdjust="spacingAndGlyphs" fill="#000" >36</text>
<text x="471.34" y="560" font-size="13" textLength="13.90" lengthAdjust="spacingAndGlyphs" fill="#000" >-2</text>
<text x="504.52" y="560" font-size="13" textLength="13.52" lengthAdjust="spacingAndGlyphs" fill="#000" >-1</text>
<text x="544.89" y="560" font-size="13" textLength="7.23" lengthAdjust="spacingAndGlyphs" fill="#000" >0</text>
<text x="577.71" y="560" font-size="13" textLength="7.23" lengthAdjust="spacingAndGlyphs" fill="#000" >1</text>
<text x="610.89" y="560" font-size="13" textLength="7.23" lengthAdjust="spacingAndGlyphs" fill="#000" >2</text>
<text x="469.43" y="539" font-size="13" textLength="22.11" lengthAdjust="spacingAndGlyphs" fill="#000" >-0.5</text>
<text x="498.43" y="539" font-size="13" textLength="29.10" lengthAdjust="spacingAndGlyphs" fill="#000" >-0.25</text>
<text x="544.59" y="539" font-size="13" textLength="5.82" lengthAdjust="spacingAndGlyphs" fill="#000" >0</text>
<text x="569.54" y="539" font-size="13" textLength="22.96" lengthAdjust="spacingAndGlyphs" fill="#000" >0.25</text>
<text x="605.04" y="539" font-size="13" textLength="16.46" lengthAdjust="spacingAndGlyphs" fill="#000" >0.5</text>
<text x="467.04" y="524" font-size="12.5" textLength="159.99" lengthAdjust="spacingAndGlyphs" fill="#000" >S difference from climatology</text>
<text x="467.32" y="575" font-size="12.5" textLength="158.50" lengthAdjust="spacingAndGlyphs" fill="#000" >T difference from climatology</text>
<text x="74.21" y="574" font-size="12.5" textLength="110.45" lengthAdjust="spacingAndGlyphs" fill="#000" >temperature (deg C)</text>
<text x="317.95" y="574" font-size="12.5" textLength="37.97" lengthAdjust="spacingAndGlyphs" fill="#000" >salinity</text>
<text x="325.55" y="517" font-size="12.5" textLength="117.63" lengthAdjust="spacingAndGlyphs" fill="#000" >US ARGO PROJECT</text>
<text x="325.47" y="530.5" font-size="12.5" textLength="126.95" lengthAdjust="spacingAndGlyphs" fill="#000" >PI: DEAN ROEMMICH</text>
<text x="90.38" y="402" font-size="12.5" textLength="61.52" lengthAdjust="spacingAndGlyphs" fill="#000" >climatology</text>
<text x="90.56" y="416" font-size="12.5" textLength="94.33" lengthAdjust="spacingAndGlyphs" fill="#000" >satellite-adj. clim.</text>
<text x="90.88" y="430" font-size="12.5" textLength="86.79" lengthAdjust="spacingAndGlyphs" fill="#000" >Argo(..raw -QC)</text>
<text x="344.28" y="402" font-size="12.5" textLength="61.52" lengthAdjust="spacingAndGlyphs" fill="#000" >climatology</text>
<text x="344.46" y="416" font-size="12.5" textLength="94.33" lengthAdjust="spacingAndGlyphs" fill="#000" >satellite-adj. clim.</text>
<text x="344.78" y="430" font-size="12.5" textLength="86.79" lengthAdjust="spacingAndGlyphs" fill="#000" >Argo(..raw -QC)</text>
<text x="480.92" y="402" font-size="12.5" textLength="65.12" lengthAdjust="spacingAndGlyphs" fill="#000" >temperature</text>
<text x="581.06" y="402" font-size="12.5" textLength="37.67" lengthAdjust="spacingAndGlyphs" fill="#000" >salinity</text>
<text x="480.76" y="416" font-size="12.5" textLength="41.70" lengthAdjust="spacingAndGlyphs" fill="#000" >satellite</text>
<text x="481.08" y="430" font-size="12.5" textLength="54.68" lengthAdjust="spacingAndGlyphs" fill="#000" >Argo(-adj)</text>
<text x="581.06" y="416" font-size="12.5" textLength="41.70" lengthAdjust="spacingAndGlyphs" fill="#000" >satellite</text>
<text x="581.38" y="430" font-size="12.5" textLength="54.68" lengthAdjust="spacingAndGlyphs" fill="#000" >Argo(-adj)</text>
<text x="692.49" y="284" font-size="13" textLength="21.69" lengthAdjust="spacingAndGlyphs" fill="#000" >152</text>
<text x="692.49" y="574" font-size="13" textLength="21.69" lengthAdjust="spacingAndGlyphs" fill="#000" >152</text>
<text x="720.35" y="284" font-size="13" textLength="21.69" lengthAdjust="spacingAndGlyphs" fill="#000" >154</text>
<text x="720.35" y="574" font-size="13" textLength="21.69" lengthAdjust="spacingAndGlyphs" fill="#000" >154</text>
<text x="748.45" y="284" font-size="13" textLength="21.69" lengthAdjust="spacingAndGlyphs" fill="#000" >156</text>
<text x="748.45" y="574" font-size="13" textLength="21.69" lengthAdjust="spacingAndGlyphs" fill="#000" >156</text>
<text x="775.44" y="284" font-size="13" textLength="21.69" lengthAdjust="spacingAndGlyphs" fill="#000" >158</text>
<text x="775.44" y="574" font-size="13" textLength="21.69" lengthAdjust="spacingAndGlyphs" fill="#000" >158</text>
<text x="803.41" y="284" font-size="13" textLength="21.69" lengthAdjust="spacingAndGlyphs" fill="#000" >160</text>
<text x="803.41" y="574" font-size="13" textLength="21.69" lengthAdjust="spacingAndGlyphs" fill="#000" >160</text>
<text x="831.49" y="284" font-size="13" textLength="21.69" lengthAdjust="spacingAndGlyphs" fill="#000" >162</text>
<text x="831.49" y="574" font-size="13" textLength="21.69" lengthAdjust="spacingAndGlyphs" fill="#000" >162</text>
<text x="858.35" y="284" font-size="13" textLength="21.69" lengthAdjust="spacingAndGlyphs" fill="#000" >164</text>
<text x="858.35" y="574" font-size="13" textLength="21.69" lengthAdjust="spacingAndGlyphs" fill="#000" >164</text>
<text x="654.72" y="71" font-size="13" textLength="18.79" lengthAdjust="spacingAndGlyphs" fill="#000" >-40</text>
<text x="654.72" y="361" font-size="13" textLength="18.79" lengthAdjust="spacingAndGlyphs" fill="#000" >-40</text>
<text x="654.86" y="110" font-size="13" textLength="18.79" lengthAdjust="spacingAndGlyphs" fill="#000" >-42</text>
<text x="654.86" y="400" font-size="13" textLength="18.79" lengthAdjust="spacingAndGlyphs" fill="#000" >-42</text>
<text x="654.59" y="148" font-size="13" textLength="18.79" lengthAdjust="spacingAndGlyphs" fill="#000" >-44</text>
<text x="654.59" y="438" font-size="13" textLength="18.79" lengthAdjust="spacingAndGlyphs" fill="#000" >-44</text>
<text x="654.78" y="187" font-size="13" textLength="18.79" lengthAdjust="spacingAndGlyphs" fill="#000" >-46</text>
<text x="654.78" y="477" font-size="13" textLength="18.79" lengthAdjust="spacingAndGlyphs" fill="#000" >-46</text>
<text x="654.78" y="225" font-size="13" textLength="18.79" lengthAdjust="spacingAndGlyphs" fill="#000" >-48</text>
<text x="654.78" y="515" font-size="13" textLength="18.79" lengthAdjust="spacingAndGlyphs" fill="#000" >-48</text>
<text x="654.72" y="264" font-size="13" textLength="18.79" lengthAdjust="spacingAndGlyphs" fill="#000" >-50</text>
<text x="654.72" y="554" font-size="13" textLength="18.79" lengthAdjust="spacingAndGlyphs" fill="#000" >-50</text>
<text x="707.16" y="26" font-size="12.5" textLength="138.87" lengthAdjust="spacingAndGlyphs" fill="#000" >sat. SST: 13.3 Argo: 13.2</text>
<text x="709.58" y="302" font-size="12.5" textLength="95.41" lengthAdjust="spacingAndGlyphs" fill="#000" >Altim. SLA: 0.049</text>
<text x="693.78" y="316" font-size="12.5" textLength="167.65" lengthAdjust="spacingAndGlyphs" fill="#000" >Argo h1000: 0.03 h2000: NaN</text>
</g>
</svg></body></html>
